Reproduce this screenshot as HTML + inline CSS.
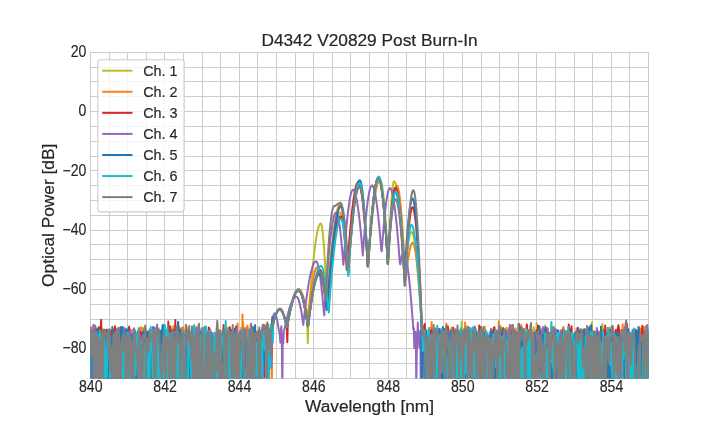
<!DOCTYPE html><html><head><meta charset="utf-8"><style>html,body{margin:0;padding:0;background:#fff;width:720px;height:432px;overflow:hidden}</style></head><body><svg width="720" height="432" viewBox="0 0 720 432" style="display:block;will-change:transform">
<rect width="720" height="432" fill="#fff"/>
<path d="M109.5 52V378M127.5 52V378M146.5 52V378M164.5 52V378M183.5 52V378M202.5 52V378M220.5 52V378M239.5 52V378M257.5 52V378M276.5 52V378M295.5 52V378M313.5 52V378M332.5 52V378M350.5 52V378M369.5 52V378M388.5 52V378M406.5 52V378M425.5 52V378M443.5 52V378M462.5 52V378M481.5 52V378M499.5 52V378M518.5 52V378M536.5 52V378M555.5 52V378M574.5 52V378M592.5 52V378M611.5 52V378M629.5 52V378M90 363.5H649M90 348.5H649M90 333.5H649M90 319.5H649M90 304.5H649M90 289.5H649M90 274.5H649M90 259.5H649M90 244.5H649M90 230.5H649M90 215.5H649M90 200.5H649M90 185.5H649M90 170.5H649M90 156.5H649M90 141.5H649M90 126.5H649M90 111.5H649M90 96.5H649M90 81.5H649M90 67.5H649" stroke="#cccccc" stroke-width="1" fill="none" shape-rendering="crispEdges"/>
<rect x="90.5" y="52.5" width="558" height="326" fill="none" stroke="#cccccc" stroke-width="1.2" shape-rendering="crispEdges"/>
<defs><clipPath id="c"><rect x="90.5" y="52.25" width="558.0" height="326.15"/></clipPath></defs><g clip-path="url(#c)"><path d="M88.5 336.7L89.2 390.0L89.9 351.2L90.6 357.8L91.3 365.9L92.0 343.5L92.7 332.0L93.4 383.4L94.1 390.0L94.8 332.3L95.5 390.0L96.2 337.6L96.9 390.0L97.6 390.0L98.3 390.0L99.0 344.4L99.7 342.2L100.4 329.0L101.1 390.0L101.8 333.5L102.5 390.0L103.2 329.2L103.9 390.0L104.6 356.5L105.3 390.0L106.0 331.4L106.7 335.9L107.4 387.3L108.1 329.4L108.8 377.0L109.5 356.6L110.2 330.4L110.9 339.4L111.6 354.1L112.3 353.1L113.0 390.0L113.7 390.0L114.4 342.7L115.1 387.0L115.8 332.9L116.5 390.0L117.2 345.7L117.9 331.8L118.6 390.0L119.3 330.8L120.0 339.1L120.7 390.0L121.4 335.1L122.1 366.4L122.8 333.4L123.5 366.3L124.2 365.6L124.9 390.0L125.6 332.0L126.3 332.3L127.0 338.8L127.7 342.9L128.4 340.4L129.1 380.7L129.8 390.0L130.5 390.0L131.2 339.5L131.9 389.8L132.6 390.0L133.3 390.0L134.0 329.4L134.7 336.4L135.4 390.0L136.1 347.3L136.8 353.7L137.5 343.4L138.2 333.5L138.9 349.9L139.6 352.3L140.3 350.1L141.0 357.2L141.7 365.2L142.4 329.8L143.1 327.9L143.8 390.0L144.5 390.0L145.2 359.2L145.9 339.6L146.6 332.1L147.3 336.6L148.0 390.0L148.7 333.8L149.4 368.2L150.1 338.9L150.8 337.1L151.5 390.0L152.2 390.0L152.9 338.6L153.6 352.5L154.3 390.0L155.0 390.0L155.7 335.4L156.4 390.0L157.1 332.7L157.8 335.0L158.5 339.2L159.2 390.0L159.9 340.5L160.6 330.8L161.3 335.8L162.0 337.9L162.7 338.1L163.4 358.0L164.1 335.6L164.8 339.3L165.5 390.0L166.2 356.2L166.9 390.0L167.6 390.0L168.3 355.3L169.0 341.8L169.7 390.0L170.4 335.1L171.1 339.5L171.8 390.0L172.5 390.0L173.2 326.1L173.9 335.9L174.6 368.9L175.3 388.9L176.0 330.2L176.7 366.6L177.4 347.5L178.1 343.5L178.8 390.0L179.5 390.0L180.2 345.1L180.9 390.0L181.6 390.0L182.3 336.0L183.0 390.0L183.7 390.0L184.4 336.1L185.1 332.1L185.8 390.0L186.5 326.9L187.2 334.0L187.9 338.3L188.6 390.0L189.3 335.5L190.0 332.0L190.7 336.7L191.4 390.0L192.1 334.8L192.8 332.7L193.5 333.0L194.2 346.6L194.9 336.1L195.6 333.1L196.3 344.6L197.0 355.4L197.7 326.0L198.4 390.0L199.1 341.9L199.8 332.5L200.5 348.0L201.2 337.2L201.9 357.9L202.6 327.9L203.3 359.1L204.0 334.1L204.7 326.6L205.4 340.4L206.1 328.7L206.8 390.0L207.5 379.4L208.2 360.1L208.9 390.0L209.6 339.6L210.3 329.2L211.0 390.0L211.7 340.8L212.4 390.0L213.1 345.2L213.8 338.5L214.5 333.9L215.2 390.0L215.9 390.0L216.6 382.6L217.3 354.2L218.0 329.8L218.7 351.1L219.4 330.4L220.1 334.5L220.8 330.6L221.5 370.7L222.2 390.0L222.9 337.9L223.6 353.1L224.3 390.0L225.0 340.8L225.7 338.4L226.4 335.0L227.1 331.9L227.8 379.7L228.5 330.1L229.2 326.8L229.9 345.8L230.6 358.3L231.3 347.5L232.0 342.7L232.7 346.0L233.4 334.4L234.1 333.8L234.8 339.0L235.5 347.5L236.2 329.3L236.9 331.6L237.6 390.0L238.3 337.2L239.0 390.0L239.7 334.6L240.4 390.0L241.1 327.8L241.8 390.0L242.5 335.0L243.2 322.5L243.9 390.0L244.6 340.6L245.3 390.0L246.0 328.1L246.7 327.0L247.4 390.0L248.1 390.0L248.8 384.0L249.5 390.0L250.2 349.2L250.9 335.0L251.6 334.8L252.3 329.2L253.0 377.7L253.7 334.9L254.4 334.7L255.1 365.2L255.8 390.0L256.5 390.0L257.2 390.0L257.9 339.7L258.6 383.6L259.3 331.2L260.0 390.0L260.7 390.0L261.4 363.3L262.1 390.0L262.8 358.5L263.5 368.3L264.2 390.0L264.9 333.8L265.6 328.4L266.3 342.2L266.8 341.8L267.3 390.0L267.8 325.9L268.3 333.9L268.8 329.5L269.3 349.8L269.8 340.7L270.3 343.2L270.8 334.1L271.3 331.3L271.8 329.0L272.3 326.8L272.8 324.8L273.3 322.8L273.8 321.0L274.3 319.3L274.8 317.7L275.3 316.2L275.8 314.9L276.3 313.7L276.8 312.6L277.3 311.7L277.8 310.9L278.3 310.3L278.8 309.9L279.3 309.6L279.8 309.5L280.3 309.6L280.8 309.8L281.3 310.3L281.8 311.0L282.3 311.8L282.8 312.8L283.3 314.1L283.8 315.4L284.3 317.0L284.8 318.7L285.3 320.5L285.8 322.5L286.3 324.6L286.8 326.9L287.3 325.9L287.8 322.8L288.3 320.0L288.8 317.3L289.3 314.8L289.8 312.3L290.3 310.0L290.8 307.8L291.3 305.7L291.8 303.7L292.3 301.8L292.8 300.0L293.3 298.4L293.8 296.9L294.3 295.5L294.8 294.3L295.3 293.2L295.8 292.3L296.3 291.5L296.8 290.9L297.3 290.5L297.8 290.2L298.3 290.0L298.8 290.0L299.3 290.3L299.8 290.8L300.3 291.5L300.8 292.5L301.3 293.6L301.8 295.0L302.3 296.6L302.8 298.4L303.3 300.4L303.8 302.6L304.3 304.9L304.8 307.5L305.3 310.2L305.8 313.0L306.3 316.0L306.8 319.2L307.3 322.6L307.8 343.2L308.3 322.7L308.8 315.1L309.3 308.1L309.8 301.4L310.3 295.0L310.8 288.8L311.3 282.9L311.8 277.2L312.3 271.7L312.8 266.5L313.3 261.5L313.8 256.8L314.3 252.4L314.8 248.3L315.3 244.4L315.8 240.9L316.3 237.7L316.8 234.8L317.3 232.2L317.8 229.9L318.3 228.0L318.8 226.4L319.3 225.2L319.8 224.3L320.3 223.8L320.8 223.6L321.3 224.2L321.8 226.0L322.3 229.0L322.8 233.1L323.3 238.3L323.8 244.6L324.3 251.8L324.8 260.0L325.3 269.0L325.8 278.8L326.3 289.5L326.8 302.0L327.3 295.2L327.8 289.3L328.3 283.7L328.8 278.4L329.3 273.3L329.8 268.4L330.3 263.6L330.8 259.0L331.3 254.6L331.8 250.4L332.3 246.4L332.8 242.5L333.3 238.9L333.8 235.5L334.3 232.3L334.8 229.3L335.3 226.5L335.8 224.0L336.3 221.7L336.8 219.7L337.3 217.9L337.8 216.3L338.3 215.1L338.8 214.0L339.3 213.3L339.8 212.8L340.3 212.5L340.8 212.6L341.3 213.3L341.8 214.5L342.3 216.3L342.8 218.7L343.3 221.6L343.8 225.0L344.3 229.0L344.8 233.4L345.3 238.3L345.8 243.6L346.3 249.3L346.8 255.4L347.3 261.9L347.8 269.0L348.3 273.7L348.8 266.0L349.3 259.1L349.8 252.6L350.3 246.3L350.8 240.4L351.3 234.7L351.8 229.2L352.3 224.1L352.8 219.2L353.3 214.6L353.8 210.3L354.3 206.3L354.8 202.6L355.3 199.3L355.8 196.3L356.3 193.7L356.8 191.4L357.3 189.6L357.8 188.0L358.3 186.9L358.8 186.2L359.3 185.8L359.8 185.9L360.3 186.6L360.8 188.0L361.3 190.0L361.8 192.6L362.3 195.9L362.8 199.7L363.3 204.1L363.8 209.0L364.3 214.5L364.8 220.4L365.3 226.9L365.8 233.7L366.3 241.0L366.8 248.8L367.3 257.1L367.8 266.3L368.3 262.4L368.8 255.8L369.3 249.6L369.8 243.7L370.3 238.0L370.8 232.6L371.3 227.4L371.8 222.4L372.3 217.7L372.8 213.2L373.3 208.9L373.8 204.9L374.3 201.2L374.8 197.7L375.3 194.5L375.8 191.7L376.3 189.1L376.8 186.8L377.3 184.9L377.8 183.2L378.3 181.9L378.8 181.0L379.3 180.3L379.8 180.0L380.3 180.1L380.8 180.9L381.3 182.3L381.8 184.4L382.3 187.1L382.8 190.4L383.3 194.4L383.8 199.0L384.3 204.1L384.8 209.8L385.3 216.0L385.8 222.7L386.3 229.8L386.8 237.4L387.3 245.5L387.8 254.1L388.3 263.5L388.8 258.7L389.3 245.6L389.8 233.7L390.3 222.9L390.8 213.1L391.3 204.5L391.8 197.1L392.3 191.0L392.8 186.4L393.3 183.2L393.8 181.5L394.3 181.2L394.8 181.7L395.3 182.6L395.8 184.0L396.3 185.9L396.8 188.2L397.3 191.0L397.8 194.3L398.3 198.0L398.8 202.1L399.3 206.6L399.8 211.5L400.3 216.8L400.8 222.4L401.3 228.4L401.8 234.8L402.3 241.4L402.8 248.4L403.3 255.7L403.8 263.5L404.3 271.9L404.8 272.1L405.3 266.7L405.8 261.7L406.3 257.1L406.8 252.7L407.3 248.8L407.8 245.2L408.3 242.0L408.8 239.2L409.3 236.8L409.8 235.0L410.3 233.5L410.8 232.6L411.3 232.1L411.8 232.2L412.3 232.7L412.8 233.8L413.3 235.4L413.8 237.4L414.3 240.0L414.8 243.0L415.3 246.5L415.8 250.4L416.3 254.8L416.8 259.6L417.3 264.9L417.8 270.5L418.3 276.4L418.8 282.8L419.3 289.5L419.8 296.5L420.3 303.9L420.8 311.6L421.3 319.8L421.8 327.1L422.3 390.0L422.8 340.6L423.3 328.4L423.8 334.5L424.3 358.1L424.8 364.6L425.3 333.1L426.0 338.6L426.7 331.0L427.4 360.2L428.1 333.3L428.8 390.0L429.5 335.7L430.2 390.0L430.9 331.8L431.6 342.6L432.3 390.0L433.0 382.9L433.7 343.2L434.4 364.2L435.1 358.9L435.8 333.1L436.5 370.9L437.2 390.0L437.9 333.3L438.6 349.0L439.3 390.0L440.0 339.2L440.7 339.9L441.4 339.1L442.1 357.4L442.8 390.0L443.5 390.0L444.2 344.0L444.9 390.0L445.6 390.0L446.3 370.6L447.0 390.0L447.7 390.0L448.4 390.0L449.1 341.1L449.8 390.0L450.5 329.4L451.2 362.8L451.9 347.9L452.6 332.4L453.3 338.4L454.0 336.5L454.7 330.8L455.4 352.9L456.1 333.0L456.8 373.3L457.5 358.6L458.2 331.5L458.9 390.0L459.6 383.5L460.3 342.8L461.0 335.0L461.7 321.4L462.4 390.0L463.1 390.0L463.8 348.5L464.5 333.8L465.2 332.1L465.9 335.5L466.6 352.8L467.3 337.0L468.0 383.0L468.7 376.3L469.4 330.5L470.1 390.0L470.8 330.4L471.5 372.7L472.2 341.2L472.9 390.0L473.6 390.0L474.3 339.7L475.0 340.8L475.7 331.9L476.4 390.0L477.1 390.0L477.8 385.4L478.5 338.5L479.2 377.0L479.9 369.3L480.6 390.0L481.3 390.0L482.0 390.0L482.7 390.0L483.4 334.6L484.1 330.2L484.8 326.5L485.5 342.5L486.2 348.5L486.9 390.0L487.6 332.7L488.3 390.0L489.0 337.7L489.7 356.1L490.4 374.5L491.1 337.3L491.8 353.9L492.5 336.2L493.2 354.6L493.9 390.0L494.6 327.2L495.3 358.3L496.0 390.0L496.7 336.0L497.4 390.0L498.1 333.9L498.8 383.0L499.5 333.5L500.2 390.0L500.9 326.6L501.6 330.3L502.3 353.2L503.0 346.9L503.7 328.7L504.4 329.3L505.1 335.3L505.8 367.7L506.5 332.8L507.2 330.4L507.9 390.0L508.6 359.1L509.3 343.3L510.0 329.7L510.7 335.6L511.4 337.7L512.1 355.0L512.8 390.0L513.5 390.0L514.2 384.1L514.9 390.0L515.6 348.0L516.3 335.9L517.0 390.0L517.7 339.8L518.4 341.3L519.1 350.4L519.8 390.0L520.5 390.0L521.2 324.7L521.9 390.0L522.6 390.0L523.3 390.0L524.0 329.0L524.7 333.9L525.4 390.0L526.1 349.6L526.8 390.0L527.5 366.0L528.2 369.5L528.9 343.0L529.6 344.9L530.3 333.6L531.0 390.0L531.7 330.3L532.4 380.4L533.1 390.0L533.8 327.2L534.5 338.1L535.2 383.5L535.9 390.0L536.6 323.1L537.3 335.9L538.0 338.2L538.7 357.9L539.4 364.1L540.1 340.2L540.8 390.0L541.5 390.0L542.2 338.9L542.9 390.0L543.6 364.8L544.3 381.4L545.0 325.4L545.7 390.0L546.4 337.1L547.1 390.0L547.8 364.1L548.5 342.2L549.2 338.6L549.9 390.0L550.6 390.0L551.3 348.9L552.0 339.0L552.7 361.6L553.4 332.0L554.1 327.0L554.8 353.2L555.5 333.0L556.2 339.7L556.9 354.7L557.6 334.4L558.3 351.9L559.0 336.5L559.7 390.0L560.4 363.8L561.1 390.0L561.8 337.8L562.5 390.0L563.2 390.0L563.9 338.9L564.6 330.9L565.3 337.3L566.0 390.0L566.7 341.4L567.4 363.7L568.1 363.1L568.8 332.8L569.5 343.2L570.2 390.0L570.9 338.9L571.6 345.8L572.3 333.4L573.0 340.8L573.7 339.5L574.4 349.8L575.1 339.1L575.8 346.8L576.5 334.1L577.2 340.3L577.9 334.5L578.6 390.0L579.3 338.0L580.0 329.9L580.7 361.6L581.4 377.5L582.1 337.4L582.8 332.3L583.5 390.0L584.2 389.9L584.9 390.0L585.6 333.1L586.3 390.0L587.0 390.0L587.7 390.0L588.4 336.3L589.1 390.0L589.8 331.5L590.5 359.8L591.2 328.3L591.9 322.3L592.6 338.7L593.3 344.2L594.0 330.9L594.7 365.6L595.4 390.0L596.1 390.0L596.8 350.4L597.5 334.9L598.2 338.3L598.9 336.2L599.6 358.5L600.3 335.2L601.0 390.0L601.7 390.0L602.4 324.1L603.1 334.3L603.8 390.0L604.5 340.4L605.2 390.0L605.9 336.4L606.6 390.0L607.3 335.5L608.0 390.0L608.7 360.1L609.4 343.4L610.1 329.0L610.8 361.0L611.5 390.0L612.2 339.0L612.9 390.0L613.6 390.0L614.3 390.0L615.0 390.0L615.7 352.8L616.4 335.4L617.1 340.3L617.8 390.0L618.5 390.0L619.2 335.7L619.9 346.8L620.6 332.4L621.3 375.5L622.0 340.3L622.7 347.1L623.4 353.3L624.1 370.2L624.8 354.4L625.5 390.0L626.2 339.1L626.9 390.0L627.6 347.8L628.3 356.6L629.0 340.0L629.7 338.9L630.4 390.0L631.1 390.0L631.8 364.8L632.5 390.0L633.2 346.2L633.9 390.0L634.6 390.0L635.3 333.8L636.0 334.9L636.7 375.6L637.4 335.3L638.1 327.5L638.8 361.1L639.5 338.7L640.2 390.0L640.9 335.6L641.6 365.9L642.3 390.0L643.0 339.0L643.7 390.0L644.4 352.3L645.1 390.0L645.8 356.0L646.5 390.0L647.2 346.7L647.9 328.1L648.6 338.1L649.3 337.2L650.0 337.4" stroke="#bcbd22" stroke-width="2" fill="none" stroke-linejoin="round"/>
<path d="M88.5 349.4L89.2 325.2L89.9 342.4L90.6 357.8L91.3 332.9L92.0 342.5L92.7 390.0L93.4 340.2L94.1 390.0L94.8 369.7L95.5 347.6L96.2 346.0L96.9 358.5L97.6 334.9L98.3 390.0L99.0 368.9L99.7 349.4L100.4 390.0L101.1 390.0L101.8 346.8L102.5 333.5L103.2 335.1L103.9 338.5L104.6 390.0L105.3 390.0L106.0 390.0L106.7 390.0L107.4 390.0L108.1 343.4L108.8 383.3L109.5 333.7L110.2 366.9L110.9 390.0L111.6 343.5L112.3 390.0L113.0 346.8L113.7 328.7L114.4 335.6L115.1 338.4L115.8 328.9L116.5 390.0L117.2 390.0L117.9 332.4L118.6 346.5L119.3 352.6L120.0 354.8L120.7 371.5L121.4 390.0L122.1 390.0L122.8 390.0L123.5 390.0L124.2 376.7L124.9 342.0L125.6 386.3L126.3 349.6L127.0 390.0L127.7 332.0L128.4 348.9L129.1 369.7L129.8 352.9L130.5 338.1L131.2 336.8L131.9 390.0L132.6 390.0L133.3 358.4L134.0 334.5L134.7 390.0L135.4 335.0L136.1 340.9L136.8 336.6L137.5 340.4L138.2 370.4L138.9 340.7L139.6 338.6L140.3 390.0L141.0 327.2L141.7 329.4L142.4 348.5L143.1 343.5L143.8 334.3L144.5 390.0L145.2 356.4L145.9 329.6L146.6 390.0L147.3 331.8L148.0 347.8L148.7 335.9L149.4 390.0L150.1 390.0L150.8 339.8L151.5 390.0L152.2 346.7L152.9 337.7L153.6 390.0L154.3 356.8L155.0 337.2L155.7 334.7L156.4 333.1L157.1 333.1L157.8 349.0L158.5 338.3L159.2 336.1L159.9 344.5L160.6 336.4L161.3 330.8L162.0 335.2L162.7 366.2L163.4 390.0L164.1 344.8L164.8 330.6L165.5 390.0L166.2 352.6L166.9 340.3L167.6 351.1L168.3 334.7L169.0 338.5L169.7 345.4L170.4 346.2L171.1 331.3L171.8 334.3L172.5 331.7L173.2 362.0L173.9 390.0L174.6 337.6L175.3 326.3L176.0 332.3L176.7 390.0L177.4 390.0L178.1 386.3L178.8 345.0L179.5 327.3L180.2 331.7L180.9 357.4L181.6 328.2L182.3 328.7L183.0 327.2L183.7 330.0L184.4 336.8L185.1 336.7L185.8 380.3L186.5 326.3L187.2 338.7L187.9 330.4L188.6 390.0L189.3 365.3L190.0 389.3L190.7 373.4L191.4 347.2L192.1 332.4L192.8 328.3L193.5 341.4L194.2 355.0L194.9 327.5L195.6 339.5L196.3 390.0L197.0 341.0L197.7 357.7L198.4 331.8L199.1 331.3L199.8 339.0L200.5 330.2L201.2 331.6L201.9 374.9L202.6 329.1L203.3 351.8L204.0 339.5L204.7 339.7L205.4 348.2L206.1 335.7L206.8 375.3L207.5 334.4L208.2 336.7L208.9 390.0L209.6 390.0L210.3 379.8L211.0 390.0L211.7 334.8L212.4 384.5L213.1 373.2L213.8 390.0L214.5 335.6L215.2 390.0L215.9 342.2L216.6 332.0L217.3 390.0L218.0 370.7L218.7 339.0L219.4 345.0L220.1 369.5L220.8 390.0L221.5 390.0L222.2 366.5L222.9 341.4L223.6 346.6L224.3 332.9L225.0 390.0L225.7 335.6L226.4 338.4L227.1 327.9L227.8 335.7L228.5 390.0L229.2 390.0L229.9 373.6L230.6 336.8L231.3 330.0L232.0 362.5L232.7 331.1L233.4 352.2L234.1 351.9L234.8 336.6L235.5 390.0L236.2 334.9L236.9 390.0L237.6 323.5L238.3 390.0L239.0 390.0L239.7 390.0L240.4 340.0L241.1 332.0L241.8 390.0L242.5 314.6L243.2 390.0L243.9 390.0L244.6 335.5L245.3 390.0L246.0 330.6L246.7 339.1L247.4 325.4L248.1 331.5L248.8 390.0L249.5 345.0L250.2 356.6L250.9 330.6L251.6 350.8L252.3 351.7L253.0 366.7L253.7 390.0L254.4 340.4L255.1 334.6L255.8 337.6L256.5 337.4L257.2 390.0L257.9 382.6L258.6 329.8L259.3 358.0L260.0 333.5L260.7 390.0L261.4 354.8L262.1 335.0L262.8 390.0L263.5 351.8L264.2 329.0L264.9 325.0L265.6 334.6L266.3 330.6L266.8 330.8L267.3 330.1L267.8 357.8L268.3 327.7L268.8 328.0L269.3 346.2L269.8 331.0L270.3 342.0L270.8 324.9L271.3 331.3L271.8 390.0L272.3 326.5L272.8 324.4L273.3 322.4L273.8 320.5L274.3 318.7L274.8 317.0L275.3 315.5L275.8 314.1L276.3 312.8L276.8 311.7L277.3 310.8L277.8 310.0L278.3 309.4L278.8 308.9L279.3 308.6L279.8 308.5L280.3 308.6L280.8 308.8L281.3 309.3L281.8 310.0L282.3 310.9L282.8 312.0L283.3 313.3L283.8 314.8L284.3 316.4L284.8 318.2L285.3 320.1L285.8 322.2L286.3 324.4L286.8 326.8L287.3 325.8L287.8 322.7L288.3 319.8L288.8 317.1L289.3 314.4L289.8 311.9L290.3 309.5L290.8 307.2L291.3 305.1L291.8 303.0L292.3 301.1L292.8 299.3L293.3 297.6L293.8 296.1L294.3 294.7L294.8 293.4L295.3 292.3L295.8 291.4L296.3 290.6L296.8 289.9L297.3 289.5L297.8 289.2L298.3 289.0L298.8 289.0L299.3 289.2L299.8 289.6L300.3 290.2L300.8 290.9L301.3 291.8L301.8 292.8L302.3 294.0L302.8 295.4L303.3 296.9L303.8 298.6L304.3 300.4L304.8 302.3L305.3 304.4L305.8 306.6L306.3 308.9L306.8 311.3L307.3 313.8L307.8 316.7L308.3 314.6L308.8 309.8L309.3 305.3L309.8 301.1L310.3 297.1L310.8 293.3L311.3 289.7L311.8 286.4L312.3 283.3L312.8 280.4L313.3 277.8L313.8 275.4L314.3 273.3L314.8 271.5L315.3 270.0L315.8 268.8L316.3 267.9L316.8 267.3L317.3 267.0L317.8 267.1L318.3 267.4L318.8 268.0L319.3 268.9L319.8 270.1L320.3 271.5L320.8 273.2L321.3 275.2L321.8 277.4L322.3 279.9L322.8 282.6L323.3 285.5L323.8 288.7L324.3 292.0L324.8 295.5L325.3 299.3L325.8 303.2L326.3 307.5L326.8 307.0L327.3 299.6L327.8 292.8L328.3 286.4L328.8 280.2L329.3 274.3L329.8 268.5L330.3 263.0L330.8 257.6L331.3 252.5L331.8 247.6L332.3 243.0L332.8 238.5L333.3 234.3L333.8 230.3L334.3 226.6L334.8 223.2L335.3 220.0L335.8 217.1L336.3 214.5L336.8 212.2L337.3 210.1L337.8 208.4L338.3 206.9L338.8 205.8L339.3 204.9L339.8 204.4L340.3 204.2L340.8 204.5L341.3 205.6L341.8 207.7L342.3 210.5L342.8 214.3L343.3 218.8L343.8 224.0L344.3 230.0L344.8 236.6L345.3 243.8L345.8 251.7L346.3 260.1L346.8 269.5L347.3 268.7L347.8 261.3L348.3 254.4L348.8 247.8L349.3 241.5L349.8 235.5L350.3 229.8L350.8 224.3L351.3 219.2L351.8 214.3L352.3 209.7L352.8 205.4L353.3 201.5L353.8 197.8L354.3 194.6L354.8 191.7L355.3 189.1L355.8 187.0L356.3 185.2L356.8 183.8L357.3 182.8L357.8 182.2L358.3 182.0L358.8 182.3L359.3 183.0L359.8 184.3L360.3 186.1L360.8 188.5L361.3 191.3L361.8 194.5L362.3 198.3L362.8 202.5L363.3 207.1L363.8 212.1L364.3 217.6L364.8 223.4L365.3 229.6L365.8 236.1L366.3 242.9L366.8 250.2L367.3 257.9L367.8 266.5L368.3 261.5L368.8 253.9L369.3 246.7L369.8 240.0L370.3 233.5L370.8 227.4L371.3 221.6L371.8 216.0L372.3 210.8L372.8 205.9L373.3 201.4L373.8 197.2L374.3 193.4L374.8 190.0L375.3 187.0L375.8 184.5L376.3 182.3L376.8 180.6L377.3 179.3L377.8 178.4L378.3 178.0L378.8 178.1L379.3 178.7L379.8 179.9L380.3 181.6L380.8 183.8L381.3 186.5L381.8 189.8L382.3 193.6L382.8 197.8L383.3 202.5L383.8 207.6L384.3 213.2L384.8 219.1L385.3 225.5L385.8 232.2L386.3 239.2L386.8 246.7L387.3 254.7L387.8 264.0L388.3 255.4L388.8 248.0L389.3 241.1L389.8 234.5L390.3 228.3L390.8 222.5L391.3 217.0L391.8 211.9L392.3 207.2L392.8 202.9L393.3 199.1L393.8 195.7L394.3 192.8L394.8 190.4L395.3 188.5L395.8 187.1L396.3 186.2L396.8 185.8L397.3 186.0L397.8 187.0L398.3 188.6L398.8 191.0L399.3 194.0L399.8 197.8L400.3 202.1L400.8 207.1L401.3 212.7L401.8 218.9L402.3 225.7L402.8 232.9L403.3 240.7L403.8 248.9L404.3 257.6L404.8 266.9L405.3 277.1L405.8 278.6L406.3 273.8L406.8 269.4L407.3 265.3L407.8 261.5L408.3 258.0L408.8 254.8L409.3 251.9L409.8 249.4L410.3 247.3L410.8 245.6L411.3 244.3L411.8 243.4L412.3 242.9L412.8 242.8L413.3 243.4L413.8 244.4L414.3 246.1L414.8 248.2L415.3 251.0L415.8 254.2L416.3 258.0L416.8 262.2L417.3 267.0L417.8 272.2L418.3 277.8L418.8 283.8L419.3 290.3L419.8 297.1L420.3 304.3L420.8 311.9L421.3 320.0L421.8 328.8L422.3 333.6L422.8 338.9L423.3 328.1L423.8 355.1L424.3 344.9L424.8 337.9L425.3 335.5L426.0 336.7L426.7 339.0L427.4 390.0L428.1 390.0L428.8 333.7L429.5 337.2L430.2 327.9L430.9 390.0L431.6 322.1L432.3 333.3L433.0 362.4L433.7 349.1L434.4 328.8L435.1 382.4L435.8 390.0L436.5 390.0L437.2 333.3L437.9 390.0L438.6 335.9L439.3 388.1L440.0 390.0L440.7 337.1L441.4 341.2L442.1 330.8L442.8 356.9L443.5 335.6L444.2 335.6L444.9 334.7L445.6 355.5L446.3 323.6L447.0 333.3L447.7 344.2L448.4 390.0L449.1 390.0L449.8 343.3L450.5 335.2L451.2 381.1L451.9 327.4L452.6 390.0L453.3 382.2L454.0 335.3L454.7 332.0L455.4 331.1L456.1 390.0L456.8 335.3L457.5 390.0L458.2 362.4L458.9 331.1L459.6 333.5L460.3 338.0L461.0 390.0L461.7 383.5L462.4 386.1L463.1 329.7L463.8 383.5L464.5 337.1L465.2 322.6L465.9 377.3L466.6 339.1L467.3 330.4L468.0 390.0L468.7 371.1L469.4 328.1L470.1 328.9L470.8 349.3L471.5 337.7L472.2 351.8L472.9 365.6L473.6 342.4L474.3 334.0L475.0 346.3L475.7 390.0L476.4 346.0L477.1 341.2L477.8 351.3L478.5 351.7L479.2 333.9L479.9 390.0L480.6 333.2L481.3 334.5L482.0 390.0L482.7 331.6L483.4 390.0L484.1 330.7L484.8 328.6L485.5 338.1L486.2 390.0L486.9 334.9L487.6 390.0L488.3 338.8L489.0 390.0L489.7 342.9L490.4 342.9L491.1 390.0L491.8 333.6L492.5 341.1L493.2 390.0L493.9 333.7L494.6 327.4L495.3 337.7L496.0 390.0L496.7 331.1L497.4 347.2L498.1 355.6L498.8 321.2L499.5 390.0L500.2 353.2L500.9 359.1L501.6 339.2L502.3 333.1L503.0 334.9L503.7 387.3L504.4 336.5L505.1 337.3L505.8 342.1L506.5 327.7L507.2 366.7L507.9 336.9L508.6 365.7L509.3 333.1L510.0 368.8L510.7 390.0L511.4 325.6L512.1 343.4L512.8 339.1L513.5 390.0L514.2 332.6L514.9 330.1L515.6 328.2L516.3 337.6L517.0 348.2L517.7 345.6L518.4 343.7L519.1 340.1L519.8 390.0L520.5 335.1L521.2 388.5L521.9 390.0L522.6 390.0L523.3 381.7L524.0 366.9L524.7 336.5L525.4 341.8L526.1 340.8L526.8 324.7L527.5 390.0L528.2 365.8L528.9 334.6L529.6 348.7L530.3 325.5L531.0 327.1L531.7 390.0L532.4 334.9L533.1 369.3L533.8 347.0L534.5 348.5L535.2 336.9L535.9 342.2L536.6 390.0L537.3 366.9L538.0 348.2L538.7 344.3L539.4 371.0L540.1 331.0L540.8 390.0L541.5 390.0L542.2 329.1L542.9 390.0L543.6 348.9L544.3 329.0L545.0 336.9L545.7 341.8L546.4 390.0L547.1 338.9L547.8 359.3L548.5 335.3L549.2 364.3L549.9 390.0L550.6 373.5L551.3 328.2L552.0 328.0L552.7 370.6L553.4 337.8L554.1 390.0L554.8 330.4L555.5 390.0L556.2 330.3L556.9 354.9L557.6 354.0L558.3 349.8L559.0 381.2L559.7 390.0L560.4 350.6L561.1 390.0L561.8 334.5L562.5 330.5L563.2 327.0L563.9 328.0L564.6 337.6L565.3 350.1L566.0 334.5L566.7 342.4L567.4 336.3L568.1 371.4L568.8 339.4L569.5 331.5L570.2 341.2L570.9 390.0L571.6 390.0L572.3 356.0L573.0 351.0L573.7 350.7L574.4 337.6L575.1 334.0L575.8 361.1L576.5 328.5L577.2 390.0L577.9 390.0L578.6 390.0L579.3 328.9L580.0 364.6L580.7 353.9L581.4 390.0L582.1 332.9L582.8 333.2L583.5 341.0L584.2 330.2L584.9 333.4L585.6 330.3L586.3 328.8L587.0 390.0L587.7 334.0L588.4 331.3L589.1 367.2L589.8 326.0L590.5 390.0L591.2 336.7L591.9 340.8L592.6 390.0L593.3 332.0L594.0 342.2L594.7 342.9L595.4 390.0L596.1 390.0L596.8 342.1L597.5 371.5L598.2 350.2L598.9 343.9L599.6 343.9L600.3 335.3L601.0 333.2L601.7 390.0L602.4 335.9L603.1 380.9L603.8 329.2L604.5 339.0L605.2 331.1L605.9 390.0L606.6 359.2L607.3 351.2L608.0 390.0L608.7 390.0L609.4 347.3L610.1 327.5L610.8 390.0L611.5 334.3L612.2 390.0L612.9 390.0L613.6 344.2L614.3 390.0L615.0 332.0L615.7 364.6L616.4 331.7L617.1 332.6L617.8 336.5L618.5 390.0L619.2 339.1L619.9 330.0L620.6 347.2L621.3 363.7L622.0 355.7L622.7 324.3L623.4 390.0L624.1 329.4L624.8 390.0L625.5 337.5L626.2 330.0L626.9 359.7L627.6 338.0L628.3 332.1L629.0 390.0L629.7 333.6L630.4 338.0L631.1 375.1L631.8 347.4L632.5 338.3L633.2 363.2L633.9 354.0L634.6 351.3L635.3 390.0L636.0 337.4L636.7 345.3L637.4 331.5L638.1 332.4L638.8 332.8L639.5 377.7L640.2 328.4L640.9 390.0L641.6 371.4L642.3 330.6L643.0 335.1L643.7 327.2L644.4 336.3L645.1 326.6L645.8 336.9L646.5 334.1L647.2 325.7L647.9 332.4L648.6 390.0L649.3 362.9L650.0 390.0" stroke="#ff7f0e" stroke-width="2" fill="none" stroke-linejoin="round"/>
<path d="M88.5 390.0L89.2 338.9L89.9 390.0L90.6 326.8L91.3 339.7L92.0 332.0L92.7 379.6L93.4 354.7L94.1 390.0L94.8 328.6L95.5 326.8L96.2 338.3L96.9 345.2L97.6 347.3L98.3 390.0L99.0 326.9L99.7 390.0L100.4 353.7L101.1 319.8L101.8 340.3L102.5 338.1L103.2 341.2L103.9 382.8L104.6 352.5L105.3 390.0L106.0 390.0L106.7 329.8L107.4 359.8L108.1 356.8L108.8 390.0L109.5 390.0L110.2 383.2L110.9 330.4L111.6 343.5L112.3 390.0L113.0 330.4L113.7 333.5L114.4 337.8L115.1 326.3L115.8 390.0L116.5 339.9L117.2 333.0L117.9 331.8L118.6 328.3L119.3 359.9L120.0 366.6L120.7 390.0L121.4 341.8L122.1 390.0L122.8 334.1L123.5 390.0L124.2 336.3L124.9 390.0L125.6 343.3L126.3 335.2L127.0 344.6L127.7 344.2L128.4 332.5L129.1 326.8L129.8 374.8L130.5 329.7L131.2 344.0L131.9 390.0L132.6 383.1L133.3 333.3L134.0 390.0L134.7 363.3L135.4 332.6L136.1 335.1L136.8 335.8L137.5 390.0L138.2 353.9L138.9 357.5L139.6 367.8L140.3 331.9L141.0 350.9L141.7 332.7L142.4 359.5L143.1 377.6L143.8 390.0L144.5 336.2L145.2 334.4L145.9 332.3L146.6 376.1L147.3 364.5L148.0 383.0L148.7 341.8L149.4 390.0L150.1 390.0L150.8 330.5L151.5 390.0L152.2 335.4L152.9 329.7L153.6 335.8L154.3 355.5L155.0 390.0L155.7 329.5L156.4 390.0L157.1 338.7L157.8 328.6L158.5 348.1L159.2 390.0L159.9 340.1L160.6 336.8L161.3 343.7L162.0 390.0L162.7 330.4L163.4 335.6L164.1 338.8L164.8 344.6L165.5 389.6L166.2 345.6L166.9 336.4L167.6 390.0L168.3 321.5L169.0 342.2L169.7 390.0L170.4 326.6L171.1 333.0L171.8 365.6L172.5 332.8L173.2 329.8L173.9 390.0L174.6 390.0L175.3 320.0L176.0 373.5L176.7 386.6L177.4 340.4L178.1 390.0L178.8 375.9L179.5 342.0L180.2 337.2L180.9 390.0L181.6 390.0L182.3 330.6L183.0 390.0L183.7 335.9L184.4 346.2L185.1 345.7L185.8 390.0L186.5 334.9L187.2 330.7L187.9 390.0L188.6 355.4L189.3 348.9L190.0 351.8L190.7 334.6L191.4 340.0L192.1 331.5L192.8 338.0L193.5 376.6L194.2 390.0L194.9 332.1L195.6 340.3L196.3 333.7L197.0 390.0L197.7 390.0L198.4 334.9L199.1 390.0L199.8 339.1L200.5 382.9L201.2 390.0L201.9 341.5L202.6 334.1L203.3 336.0L204.0 368.6L204.7 390.0L205.4 343.6L206.1 390.0L206.8 333.1L207.5 386.6L208.2 346.1L208.9 327.4L209.6 330.6L210.3 357.0L211.0 332.5L211.7 353.1L212.4 390.0L213.1 389.1L213.8 390.0L214.5 340.3L215.2 374.8L215.9 386.8L216.6 335.1L217.3 339.6L218.0 334.8L218.7 390.0L219.4 333.5L220.1 331.8L220.8 351.0L221.5 335.3L222.2 390.0L222.9 351.1L223.6 325.1L224.3 342.5L225.0 390.0L225.7 390.0L226.4 378.5L227.1 354.0L227.8 371.0L228.5 390.0L229.2 388.9L229.9 327.5L230.6 341.1L231.3 330.4L232.0 329.8L232.7 356.1L233.4 335.8L234.1 355.1L234.8 331.2L235.5 335.2L236.2 326.3L236.9 335.0L237.6 390.0L238.3 390.0L239.0 356.2L239.7 341.9L240.4 390.0L241.1 334.1L241.8 335.1L242.5 334.1L243.2 356.8L243.9 338.3L244.6 390.0L245.3 332.6L246.0 390.0L246.7 390.0L247.4 390.0L248.1 343.4L248.8 390.0L249.5 342.4L250.2 332.4L250.9 341.2L251.6 332.6L252.3 390.0L253.0 337.0L253.7 346.9L254.4 330.8L255.1 339.1L255.8 390.0L256.5 334.4L257.2 358.9L257.9 349.7L258.6 332.0L259.3 336.9L260.0 331.0L260.7 338.9L261.4 346.3L262.1 330.3L262.8 330.2L263.5 329.4L264.2 377.2L264.9 333.2L265.6 329.1L266.3 345.7L266.8 326.0L267.3 329.6L267.8 332.5L268.3 335.8L268.8 339.3L269.3 360.1L269.8 330.9L270.3 364.3L270.8 332.3L271.3 358.8L271.8 329.0L272.3 326.8L272.8 324.8L273.3 322.8L273.8 321.0L274.3 319.3L274.8 317.7L275.3 316.2L275.8 314.9L276.3 313.7L276.8 312.6L277.3 311.7L277.8 310.9L278.3 310.3L278.8 309.9L279.3 309.6L279.8 309.5L280.3 309.6L280.8 309.8L281.3 310.3L281.8 311.0L282.3 311.8L282.8 312.8L283.3 314.1L283.8 315.4L284.3 317.0L284.8 318.7L285.3 320.5L285.8 322.5L286.3 324.6L286.8 326.9L287.3 342.3L287.8 322.8L288.3 320.0L288.8 317.3L289.3 314.8L289.8 312.3L290.3 310.0L290.8 307.8L291.3 305.7L291.8 303.7L292.3 301.8L292.8 300.0L293.3 298.4L293.8 296.9L294.3 295.5L294.8 294.3L295.3 293.2L295.8 292.3L296.3 291.5L296.8 290.9L297.3 290.5L297.8 290.2L298.3 290.0L298.8 290.0L299.3 290.3L299.8 290.8L300.3 291.5L300.8 292.5L301.3 293.6L301.8 295.0L302.3 296.6L302.8 298.4L303.3 300.4L303.8 302.6L304.3 304.9L304.8 307.5L305.3 310.2L305.8 313.0L306.3 316.0L306.8 319.2L307.3 322.6L307.8 326.2L308.3 324.9L308.8 320.4L309.3 316.3L309.8 312.3L310.3 308.6L310.8 305.0L311.3 301.5L311.8 298.2L312.3 295.0L312.8 292.0L313.3 289.2L313.8 286.6L314.3 284.1L314.8 281.8L315.3 279.7L315.8 277.8L316.3 276.0L316.8 274.5L317.3 273.2L317.8 272.2L318.3 271.3L318.8 270.6L319.3 270.2L319.8 270.0L320.3 270.1L320.8 270.6L321.3 271.6L321.8 273.1L322.3 275.0L322.8 277.3L323.3 280.0L323.8 283.2L324.3 286.7L324.8 290.6L325.3 294.7L325.8 299.2L326.3 304.1L326.8 309.4L327.3 307.5L327.8 301.1L328.3 295.1L328.8 289.5L329.3 284.0L329.8 278.7L330.3 273.7L330.8 268.8L331.3 264.1L331.8 259.5L332.3 255.2L332.8 251.0L333.3 247.1L333.8 243.4L334.3 239.9L334.8 236.6L335.3 233.5L335.8 230.7L336.3 228.1L336.8 225.7L337.3 223.6L337.8 221.8L338.3 220.2L338.8 218.9L339.3 217.9L339.8 217.1L340.3 216.6L340.8 216.3L341.3 216.5L341.8 217.4L342.3 219.3L342.8 222.0L343.3 225.5L343.8 229.8L344.3 234.9L344.8 240.6L345.3 247.0L345.8 253.9L346.3 261.5L346.8 269.9L347.3 268.8L347.8 261.6L348.3 254.8L348.8 248.4L349.3 242.2L349.8 236.4L350.3 230.7L350.8 225.4L351.3 220.3L351.8 215.4L352.3 210.9L352.8 206.7L353.3 202.8L353.8 199.2L354.3 195.9L354.8 193.0L355.3 190.4L355.8 188.2L356.3 186.3L356.8 184.8L357.3 183.7L357.8 183.0L358.3 182.6L358.8 182.7L359.3 183.3L359.8 184.4L360.3 186.1L360.8 188.3L361.3 191.0L361.8 194.2L362.3 197.8L362.8 202.0L363.3 206.6L363.8 211.6L364.3 217.1L364.8 222.9L365.3 229.1L365.8 235.7L366.3 242.6L366.8 250.0L367.3 257.8L367.8 266.4L368.3 261.5L368.8 253.9L369.3 246.7L369.8 240.0L370.3 233.5L370.8 227.4L371.3 221.6L371.8 216.0L372.3 210.8L372.8 205.9L373.3 201.4L373.8 197.2L374.3 193.4L374.8 190.0L375.3 187.0L375.8 184.5L376.3 182.3L376.8 180.6L377.3 179.3L377.8 178.4L378.3 178.0L378.8 178.1L379.3 178.7L379.8 179.9L380.3 181.6L380.8 183.8L381.3 186.5L381.8 189.8L382.3 193.6L382.8 197.8L383.3 202.5L383.8 207.6L384.3 213.2L384.8 219.1L385.3 225.5L385.8 232.2L386.3 239.2L386.8 246.7L387.3 254.7L387.8 264.0L388.3 254.2L388.8 245.9L389.3 238.1L389.8 230.8L390.3 224.0L390.8 217.7L391.3 211.9L391.8 206.6L392.3 202.0L392.8 197.9L393.3 194.5L393.8 191.8L394.3 189.8L394.8 188.4L395.3 187.8L395.8 187.8L396.3 188.5L396.8 189.8L397.3 191.8L397.8 194.3L398.3 197.5L398.8 201.2L399.3 205.5L399.8 210.3L400.3 215.7L400.8 221.6L401.3 227.9L401.8 234.7L402.3 242.0L402.8 249.6L403.3 257.7L403.8 266.3L404.3 275.4L404.8 285.5L405.3 279.4L405.8 270.3L406.3 261.9L406.8 254.0L407.3 246.6L407.8 239.7L408.3 233.4L408.8 227.8L409.3 222.7L409.8 218.3L410.3 214.6L410.8 211.7L411.3 209.4L411.8 208.0L412.3 207.3L412.8 207.3L413.3 208.2L413.8 209.8L414.3 212.2L414.8 215.3L415.3 219.2L415.8 223.8L416.3 229.0L416.8 235.0L417.3 241.6L417.8 248.8L418.3 256.6L418.8 265.0L419.3 273.9L419.8 283.4L420.3 293.3L420.8 303.8L421.3 315.0L421.8 327.2L422.3 324.8L422.8 334.4L423.3 333.8L423.8 338.1L424.3 329.4L424.8 324.0L425.3 334.1L426.0 353.3L426.7 370.6L427.4 373.7L428.1 362.1L428.8 390.0L429.5 346.7L430.2 331.2L430.9 334.0L431.6 330.1L432.3 335.7L433.0 332.3L433.7 336.9L434.4 362.2L435.1 338.8L435.8 334.1L436.5 390.0L437.2 390.0L437.9 343.3L438.6 336.0L439.3 336.2L440.0 390.0L440.7 390.0L441.4 329.2L442.1 334.9L442.8 390.0L443.5 332.8L444.2 390.0L444.9 365.3L445.6 353.0L446.3 390.0L447.0 385.0L447.7 326.3L448.4 329.8L449.1 390.0L449.8 333.0L450.5 341.4L451.2 368.5L451.9 390.0L452.6 390.0L453.3 327.7L454.0 343.7L454.7 331.6L455.4 333.9L456.1 336.3L456.8 390.0L457.5 341.1L458.2 336.5L458.9 333.8L459.6 390.0L460.3 374.7L461.0 358.2L461.7 390.0L462.4 382.6L463.1 390.0L463.8 390.0L464.5 340.1L465.2 330.1L465.9 390.0L466.6 390.0L467.3 330.1L468.0 370.4L468.7 327.5L469.4 334.4L470.1 330.4L470.8 366.3L471.5 351.5L472.2 332.3L472.9 390.0L473.6 334.5L474.3 390.0L475.0 340.4L475.7 381.1L476.4 333.2L477.1 350.6L477.8 390.0L478.5 390.0L479.2 325.4L479.9 363.0L480.6 327.0L481.3 331.0L482.0 390.0L482.7 390.0L483.4 390.0L484.1 339.8L484.8 342.0L485.5 390.0L486.2 337.2L486.9 390.0L487.6 360.2L488.3 374.6L489.0 344.1L489.7 390.0L490.4 390.0L491.1 334.7L491.8 330.2L492.5 342.0L493.2 344.3L493.9 327.4L494.6 390.0L495.3 339.5L496.0 337.6L496.7 359.9L497.4 333.2L498.1 341.2L498.8 354.0L499.5 354.9L500.2 378.0L500.9 335.5L501.6 334.6L502.3 332.3L503.0 328.1L503.7 336.5L504.4 367.0L505.1 336.2L505.8 355.2L506.5 342.0L507.2 353.7L507.9 375.0L508.6 359.5L509.3 328.7L510.0 390.0L510.7 390.0L511.4 331.0L512.1 390.0L512.8 390.0L513.5 390.0L514.2 358.8L514.9 382.1L515.6 341.8L516.3 381.9L517.0 374.5L517.7 333.2L518.4 339.9L519.1 324.2L519.8 327.4L520.5 359.9L521.2 390.0L521.9 363.1L522.6 358.4L523.3 332.5L524.0 342.1L524.7 390.0L525.4 347.4L526.1 390.0L526.8 324.4L527.5 334.2L528.2 340.1L528.9 331.9L529.6 390.0L530.3 363.2L531.0 390.0L531.7 371.5L532.4 365.2L533.1 390.0L533.8 390.0L534.5 336.8L535.2 362.1L535.9 349.8L536.6 329.9L537.3 390.0L538.0 325.6L538.7 327.5L539.4 343.4L540.1 390.0L540.8 390.0L541.5 342.3L542.2 390.0L542.9 347.6L543.6 384.1L544.3 340.4L545.0 333.5L545.7 327.6L546.4 354.0L547.1 390.0L547.8 339.8L548.5 336.9L549.2 335.7L549.9 390.0L550.6 340.6L551.3 390.0L552.0 387.9L552.7 390.0L553.4 338.8L554.1 349.7L554.8 390.0L555.5 340.9L556.2 390.0L556.9 336.8L557.6 336.0L558.3 361.2L559.0 344.7L559.7 345.4L560.4 335.3L561.1 336.5L561.8 378.0L562.5 330.0L563.2 331.2L563.9 335.3L564.6 348.0L565.3 361.8L566.0 368.7L566.7 346.0L567.4 390.0L568.1 341.3L568.8 324.6L569.5 343.0L570.2 390.0L570.9 330.1L571.6 326.2L572.3 387.2L573.0 390.0L573.7 335.7L574.4 354.7L575.1 387.9L575.8 390.0L576.5 390.0L577.2 374.0L577.9 349.0L578.6 330.7L579.3 333.2L580.0 343.9L580.7 331.9L581.4 353.9L582.1 336.3L582.8 357.6L583.5 390.0L584.2 378.0L584.9 349.5L585.6 390.0L586.3 390.0L587.0 390.0L587.7 339.9L588.4 390.0L589.1 347.7L589.8 390.0L590.5 338.2L591.2 338.7L591.9 331.7L592.6 357.5L593.3 390.0L594.0 332.5L594.7 343.0L595.4 341.5L596.1 359.1L596.8 390.0L597.5 348.6L598.2 331.7L598.9 390.0L599.6 343.3L600.3 390.0L601.0 327.0L601.7 390.0L602.4 390.0L603.1 357.8L603.8 330.7L604.5 355.3L605.2 325.6L605.9 333.4L606.6 359.1L607.3 333.3L608.0 376.5L608.7 336.6L609.4 390.0L610.1 330.8L610.8 337.9L611.5 390.0L612.2 351.2L612.9 331.4L613.6 390.0L614.3 335.7L615.0 342.6L615.7 330.0L616.4 345.9L617.1 332.1L617.8 328.1L618.5 325.3L619.2 331.4L619.9 375.4L620.6 339.3L621.3 390.0L622.0 330.2L622.7 338.2L623.4 342.5L624.1 331.1L624.8 390.0L625.5 372.1L626.2 327.6L626.9 323.7L627.6 333.9L628.3 344.3L629.0 380.5L629.7 335.2L630.4 344.1L631.1 351.4L631.8 390.0L632.5 346.8L633.2 331.7L633.9 332.7L634.6 342.4L635.3 351.2L636.0 390.0L636.7 330.7L637.4 334.9L638.1 355.4L638.8 378.8L639.5 390.0L640.2 390.0L640.9 348.7L641.6 336.9L642.3 325.8L643.0 342.3L643.7 339.5L644.4 345.0L645.1 332.6L645.8 390.0L646.5 366.7L647.2 335.0L647.9 332.2L648.6 347.5L649.3 343.0L650.0 390.0" stroke="#d62728" stroke-width="2" fill="none" stroke-linejoin="round"/>
<path d="M88.5 349.6L89.2 390.0L89.9 330.5L90.6 390.0L91.3 337.4L92.0 386.2L92.7 339.7L93.4 324.8L94.1 390.0L94.8 325.4L95.5 390.0L96.2 336.3L96.9 357.7L97.6 335.3L98.3 390.0L99.0 334.6L99.7 355.0L100.4 342.5L101.1 336.9L101.8 336.6L102.5 390.0L103.2 333.7L103.9 336.5L104.6 329.7L105.3 353.9L106.0 380.8L106.7 390.0L107.4 386.9L108.1 335.0L108.8 336.3L109.5 390.0L110.2 374.5L110.9 348.7L111.6 336.8L112.3 390.0L113.0 390.0L113.7 349.2L114.4 374.4L115.1 371.0L115.8 336.7L116.5 340.8L117.2 332.9L117.9 390.0L118.6 327.8L119.3 390.0L120.0 368.5L120.7 390.0L121.4 390.0L122.1 342.0L122.8 369.8L123.5 390.0L124.2 340.0L124.9 328.2L125.6 335.3L126.3 335.1L127.0 329.9L127.7 335.1L128.4 334.3L129.1 357.8L129.8 330.3L130.5 337.4L131.2 366.6L131.9 390.0L132.6 356.9L133.3 329.5L134.0 355.4L134.7 331.9L135.4 336.7L136.1 356.5L136.8 361.1L137.5 347.4L138.2 390.0L138.9 390.0L139.6 390.0L140.3 335.3L141.0 340.5L141.7 390.0L142.4 388.9L143.1 390.0L143.8 346.6L144.5 390.0L145.2 338.6L145.9 361.3L146.6 390.0L147.3 347.3L148.0 344.1L148.7 338.5L149.4 329.6L150.1 360.4L150.8 343.2L151.5 371.8L152.2 340.3L152.9 327.0L153.6 332.2L154.3 390.0L155.0 342.2L155.7 390.0L156.4 331.7L157.1 324.5L157.8 390.0L158.5 390.0L159.2 390.0L159.9 374.7L160.6 356.5L161.3 339.0L162.0 390.0L162.7 390.0L163.4 367.3L164.1 327.2L164.8 338.0L165.5 369.2L166.2 390.0L166.9 340.2L167.6 341.8L168.3 375.3L169.0 359.6L169.7 390.0L170.4 333.2L171.1 333.1L171.8 390.0L172.5 377.1L173.2 362.9L173.9 390.0L174.6 372.4L175.3 331.6L176.0 390.0L176.7 390.0L177.4 338.1L178.1 333.1L178.8 346.1L179.5 390.0L180.2 339.0L180.9 335.7L181.6 368.6L182.3 340.7L183.0 333.7L183.7 390.0L184.4 390.0L185.1 343.1L185.8 341.5L186.5 390.0L187.2 333.4L187.9 342.3L188.6 390.0L189.3 340.7L190.0 336.9L190.7 339.6L191.4 347.1L192.1 390.0L192.8 354.7L193.5 353.2L194.2 390.0L194.9 340.8L195.6 332.6L196.3 327.5L197.0 334.9L197.7 339.5L198.4 343.4L199.1 384.4L199.8 390.0L200.5 332.9L201.2 330.9L201.9 328.2L202.6 334.1L203.3 390.0L204.0 337.3L204.7 327.2L205.4 334.5L206.1 335.7L206.8 390.0L207.5 334.6L208.2 390.0L208.9 338.7L209.6 345.7L210.3 330.6L211.0 342.6L211.7 333.7L212.4 333.1L213.1 352.2L213.8 390.0L214.5 390.0L215.2 386.7L215.9 335.0L216.6 345.0L217.3 343.2L218.0 390.0L218.7 339.2L219.4 353.8L220.1 334.4L220.8 390.0L221.5 334.0L222.2 341.1L222.9 390.0L223.6 350.9L224.3 378.0L225.0 335.6L225.7 358.5L226.4 339.2L227.1 390.0L227.8 390.0L228.5 340.2L229.2 390.0L229.9 364.7L230.6 355.7L231.3 332.0L232.0 360.4L232.7 354.0L233.4 390.0L234.1 340.4L234.8 390.0L235.5 334.6L236.2 390.0L236.9 328.7L237.6 338.6L238.3 386.0L239.0 390.0L239.7 342.8L240.4 382.3L241.1 334.3L241.8 350.1L242.5 348.6L243.2 354.1L243.9 328.0L244.6 335.5L245.3 390.0L246.0 336.8L246.7 340.9L247.4 390.0L248.1 390.0L248.8 343.2L249.5 341.4L250.2 334.4L250.9 323.7L251.6 331.8L252.3 339.4L253.0 390.0L253.7 328.1L254.4 343.8L255.1 379.3L255.8 333.1L256.5 338.6L257.2 332.5L257.9 347.4L258.6 390.0L259.3 344.9L260.0 390.0L260.7 331.9L261.4 390.0L262.1 390.0L262.8 390.0L263.5 358.0L264.2 339.0L264.9 335.0L265.6 345.5L266.3 332.2L266.8 341.7L267.3 324.1L267.8 388.4L268.3 390.0L268.8 390.0L269.3 336.2L269.8 339.9L270.3 349.7L270.8 333.2L271.3 366.5L271.8 325.4L272.3 321.6L272.8 318.4L273.3 316.0L273.8 314.4L274.3 313.6L274.8 313.6L275.3 314.1L275.8 315.1L276.3 316.6L276.8 318.5L277.3 320.8L277.8 323.6L278.3 326.7L278.8 330.2L279.3 331.9L279.8 335.2L280.3 342.7L280.8 330.3L281.3 326.3L281.8 339.1L282.3 390.0L282.8 334.0L283.3 343.5L283.8 331.1L284.3 329.3L284.8 327.8L285.3 325.3L285.8 323.0L286.3 320.7L286.8 318.5L287.3 316.4L287.8 314.4L288.3 312.4L288.8 310.6L289.3 308.9L289.8 307.3L290.3 305.8L290.8 304.4L291.3 303.1L291.8 301.9L292.3 300.9L292.8 299.9L293.3 299.1L293.8 298.4L294.3 297.8L294.8 297.3L295.3 297.0L295.8 296.8L296.3 296.7L296.8 296.8L297.3 297.2L297.8 298.0L298.3 299.1L298.8 300.4L299.3 302.1L299.8 304.1L300.3 306.3L300.8 308.8L301.3 311.5L301.8 314.4L302.3 317.6L302.8 321.0L303.3 325.0L303.8 319.8L304.3 315.3L304.8 311.1L305.3 307.1L305.8 303.2L306.3 299.5L306.8 295.9L307.3 292.5L307.8 289.2L308.3 286.1L308.8 283.1L309.3 280.3L309.8 277.7L310.3 275.2L310.8 273.0L311.3 270.9L311.8 269.0L312.3 267.3L312.8 265.8L313.3 264.6L313.8 263.5L314.3 262.7L314.8 262.0L315.3 261.6L315.8 261.4L316.3 261.5L316.8 262.0L317.3 263.0L317.8 264.4L318.3 266.2L318.8 268.5L319.3 271.2L319.8 274.4L320.3 277.8L320.8 281.7L321.3 285.9L321.8 290.4L322.3 295.3L322.8 300.5L323.3 305.9L323.8 311.9L324.3 315.3L324.8 306.8L325.3 299.1L325.8 291.9L326.3 285.0L326.8 278.3L327.3 272.0L327.8 265.9L328.3 260.0L328.8 254.5L329.3 249.3L329.8 244.3L330.3 239.7L330.8 235.4L331.3 231.5L331.8 227.9L332.3 224.6L332.8 221.7L333.3 219.2L333.8 217.1L334.3 215.4L334.8 214.1L335.3 213.2L335.8 212.6L336.3 212.5L336.8 212.9L337.3 213.9L337.8 215.4L338.3 217.5L338.8 220.2L339.3 223.3L339.8 227.0L340.3 231.1L340.8 235.6L341.3 240.6L341.8 245.9L342.3 251.7L342.8 257.9L343.3 264.8L343.8 259.9L344.3 252.8L344.8 246.3L345.3 240.1L345.8 234.1L346.3 228.6L346.8 223.3L347.3 218.3L347.8 213.7L348.3 209.5L348.8 205.6L349.3 202.1L349.8 199.0L350.3 196.4L350.8 194.1L351.3 192.4L351.8 191.0L352.3 190.2L352.8 189.7L353.3 189.8L353.8 190.2L354.3 191.0L354.8 192.1L355.3 193.7L355.8 195.6L356.3 197.8L356.8 200.4L357.3 203.4L357.8 206.6L358.3 210.2L358.8 214.0L359.3 218.2L359.8 222.6L360.3 227.2L360.8 232.2L361.3 237.3L361.8 242.8L362.3 248.6L362.8 255.4L363.3 247.7L363.8 241.1L364.3 234.9L364.8 229.0L365.3 223.5L365.8 218.2L366.3 213.3L366.8 208.8L367.3 204.6L367.8 200.7L368.3 197.3L368.8 194.3L369.3 191.7L369.8 189.5L370.3 187.8L370.8 186.5L371.3 185.7L371.8 185.4L372.3 185.5L372.8 186.1L373.3 187.0L373.8 188.3L374.3 190.1L374.8 192.2L375.3 194.7L375.8 197.6L376.3 200.8L376.8 204.4L377.3 208.3L377.8 212.5L378.3 217.0L378.8 221.8L379.3 226.9L379.8 232.2L380.3 237.8L380.8 243.8L381.3 250.2L381.8 251.3L382.3 244.0L382.8 237.4L383.3 231.1L383.8 225.3L384.3 219.8L384.8 214.6L385.3 209.9L385.8 205.6L386.3 201.7L386.8 198.2L387.3 195.3L387.8 192.8L388.3 190.8L388.8 189.4L389.3 188.5L389.8 188.1L390.3 188.2L390.8 188.8L391.3 189.8L391.8 191.2L392.3 193.0L392.8 195.2L393.3 197.8L393.8 200.8L394.3 204.2L394.8 208.0L395.3 212.1L395.8 216.5L396.3 221.2L396.8 226.3L397.3 231.6L397.8 237.3L398.3 243.2L398.8 249.4L399.3 256.0L399.8 263.2L400.3 264.3L400.8 261.0L401.3 258.1L401.8 255.7L402.3 253.9L402.8 252.6L403.3 252.1L403.8 252.1L404.3 252.6L404.8 253.5L405.3 254.9L405.8 256.7L406.3 259.0L406.8 261.6L407.3 264.7L407.8 268.2L408.3 272.1L408.8 276.3L409.3 280.9L409.8 285.8L410.3 291.0L410.8 296.6L411.3 302.4L411.8 308.6L412.3 315.1L412.8 321.9L413.3 329.4L413.8 328.0L414.3 348.0L414.8 337.7L415.3 331.7L415.8 334.0L416.3 388.1L416.8 351.1L417.3 338.6L417.8 322.5L418.3 341.3L418.8 336.2L419.3 347.3L419.8 333.4L420.3 330.8L420.8 390.0L421.3 356.7L421.8 339.5L422.3 336.9L422.8 342.6L423.3 342.9L423.8 339.9L424.3 390.0L424.8 350.7L425.3 390.0L426.0 339.6L426.7 390.0L427.4 390.0L428.1 344.2L428.8 390.0L429.5 390.0L430.2 349.2L430.9 390.0L431.6 334.4L432.3 336.7L433.0 340.1L433.7 362.0L434.4 334.2L435.1 333.7L435.8 390.0L436.5 351.1L437.2 330.6L437.9 341.6L438.6 342.2L439.3 390.0L440.0 390.0L440.7 336.4L441.4 335.6L442.1 346.3L442.8 342.7L443.5 390.0L444.2 390.0L444.9 385.4L445.6 390.0L446.3 358.2L447.0 390.0L447.7 357.6L448.4 331.2L449.1 390.0L449.8 331.1L450.5 334.6L451.2 340.1L451.9 340.3L452.6 333.7L453.3 339.8L454.0 336.1L454.7 356.4L455.4 346.6L456.1 346.6L456.8 358.9L457.5 337.5L458.2 383.4L458.9 337.7L459.6 341.0L460.3 364.5L461.0 390.0L461.7 345.9L462.4 343.2L463.1 347.9L463.8 390.0L464.5 390.0L465.2 368.2L465.9 390.0L466.6 360.1L467.3 363.0L468.0 390.0L468.7 332.7L469.4 340.0L470.1 337.1L470.8 330.8L471.5 346.3L472.2 376.7L472.9 386.5L473.6 336.5L474.3 390.0L475.0 352.5L475.7 351.8L476.4 390.0L477.1 363.9L477.8 359.2L478.5 333.8L479.2 371.6L479.9 334.4L480.6 344.9L481.3 334.1L482.0 378.4L482.7 390.0L483.4 333.4L484.1 379.7L484.8 375.1L485.5 390.0L486.2 349.3L486.9 333.8L487.6 335.5L488.3 353.9L489.0 335.8L489.7 390.0L490.4 390.0L491.1 328.8L491.8 343.0L492.5 351.6L493.2 390.0L493.9 335.1L494.6 373.2L495.3 334.5L496.0 330.2L496.7 390.0L497.4 331.1L498.1 390.0L498.8 351.4L499.5 335.1L500.2 344.5L500.9 390.0L501.6 387.0L502.3 336.9L503.0 340.5L503.7 341.4L504.4 335.5L505.1 390.0L505.8 350.3L506.5 337.2L507.2 331.5L507.9 345.0L508.6 385.2L509.3 390.0L510.0 324.7L510.7 390.0L511.4 358.5L512.1 375.7L512.8 325.5L513.5 390.0L514.2 336.4L514.9 390.0L515.6 334.9L516.3 390.0L517.0 333.1L517.7 338.4L518.4 390.0L519.1 390.0L519.8 333.0L520.5 368.6L521.2 337.9L521.9 335.3L522.6 345.8L523.3 353.4L524.0 331.5L524.7 390.0L525.4 342.5L526.1 338.7L526.8 346.0L527.5 335.3L528.2 341.7L528.9 330.0L529.6 359.1L530.3 388.9L531.0 340.8L531.7 390.0L532.4 338.2L533.1 390.0L533.8 340.4L534.5 341.0L535.2 390.0L535.9 367.6L536.6 332.8L537.3 370.5L538.0 390.0L538.7 359.8L539.4 329.3L540.1 347.9L540.8 333.7L541.5 382.9L542.2 336.2L542.9 327.0L543.6 340.6L544.3 334.6L545.0 336.3L545.7 353.6L546.4 390.0L547.1 375.0L547.8 328.2L548.5 341.9L549.2 390.0L549.9 351.7L550.6 335.6L551.3 381.7L552.0 385.4L552.7 390.0L553.4 333.8L554.1 329.9L554.8 332.7L555.5 329.1L556.2 369.7L556.9 390.0L557.6 330.4L558.3 390.0L559.0 365.8L559.7 380.6L560.4 330.5L561.1 339.6L561.8 390.0L562.5 390.0L563.2 390.0L563.9 375.3L564.6 336.7L565.3 390.0L566.0 352.5L566.7 390.0L567.4 390.0L568.1 337.4L568.8 355.1L569.5 331.7L570.2 344.6L570.9 342.9L571.6 351.2L572.3 390.0L573.0 345.7L573.7 345.0L574.4 390.0L575.1 385.7L575.8 343.7L576.5 340.6L577.2 370.3L577.9 342.6L578.6 390.0L579.3 390.0L580.0 390.0L580.7 342.8L581.4 342.9L582.1 390.0L582.8 337.0L583.5 332.9L584.2 328.9L584.9 336.1L585.6 343.8L586.3 334.5L587.0 370.2L587.7 330.8L588.4 334.5L589.1 359.6L589.8 390.0L590.5 342.8L591.2 390.0L591.9 337.0L592.6 331.9L593.3 342.9L594.0 390.0L594.7 363.3L595.4 334.3L596.1 345.7L596.8 328.0L597.5 331.3L598.2 390.0L598.9 349.1L599.6 345.9L600.3 390.0L601.0 334.0L601.7 331.1L602.4 334.0L603.1 341.4L603.8 342.3L604.5 359.1L605.2 390.0L605.9 390.0L606.6 344.2L607.3 342.6L608.0 390.0L608.7 365.1L609.4 336.2L610.1 390.0L610.8 350.5L611.5 329.5L612.2 386.0L612.9 337.8L613.6 334.7L614.3 390.0L615.0 340.1L615.7 390.0L616.4 390.0L617.1 389.5L617.8 338.0L618.5 385.2L619.2 390.0L619.9 337.2L620.6 338.1L621.3 390.0L622.0 390.0L622.7 390.0L623.4 342.3L624.1 335.8L624.8 326.9L625.5 388.8L626.2 362.7L626.9 332.4L627.6 332.7L628.3 341.3L629.0 376.7L629.7 390.0L630.4 332.9L631.1 390.0L631.8 366.6L632.5 357.7L633.2 336.7L633.9 331.4L634.6 378.4L635.3 340.9L636.0 339.5L636.7 390.0L637.4 390.0L638.1 335.3L638.8 330.6L639.5 390.0L640.2 344.1L640.9 338.5L641.6 373.6L642.3 335.0L643.0 352.5L643.7 390.0L644.4 343.3L645.1 330.8L645.8 338.2L646.5 338.4L647.2 325.0L647.9 330.8L648.6 390.0L649.3 331.1L650.0 390.0" stroke="#9467bd" stroke-width="2" fill="none" stroke-linejoin="round"/>
<path d="M88.5 323.3L89.2 339.0L89.9 343.5L90.6 390.0L91.3 340.2L92.0 354.0L92.7 339.0L93.4 360.1L94.1 390.0L94.8 357.1L95.5 353.9L96.2 332.4L96.9 330.2L97.6 328.6L98.3 337.9L99.0 334.3L99.7 390.0L100.4 351.8L101.1 340.7L101.8 351.6L102.5 335.9L103.2 377.6L103.9 330.6L104.6 345.1L105.3 329.8L106.0 369.5L106.7 352.5L107.4 360.2L108.1 390.0L108.8 387.1L109.5 335.1L110.2 341.8L110.9 390.0L111.6 390.0L112.3 326.9L113.0 390.0L113.7 341.6L114.4 360.6L115.1 356.1L115.8 349.2L116.5 390.0L117.2 390.0L117.9 390.0L118.6 344.9L119.3 352.5L120.0 390.0L120.7 326.9L121.4 336.8L122.1 328.0L122.8 327.0L123.5 390.0L124.2 332.8L124.9 355.6L125.6 368.4L126.3 332.3L127.0 329.2L127.7 330.9L128.4 390.0L129.1 390.0L129.8 390.0L130.5 336.5L131.2 357.9L131.9 373.3L132.6 335.3L133.3 390.0L134.0 390.0L134.7 330.2L135.4 390.0L136.1 343.6L136.8 390.0L137.5 390.0L138.2 330.7L138.9 351.2L139.6 381.8L140.3 390.0L141.0 390.0L141.7 343.9L142.4 389.0L143.1 331.8L143.8 390.0L144.5 328.7L145.2 328.6L145.9 390.0L146.6 360.0L147.3 332.4L148.0 331.8L148.7 355.8L149.4 337.6L150.1 342.4L150.8 331.7L151.5 390.0L152.2 390.0L152.9 387.1L153.6 390.0L154.3 327.5L155.0 364.3L155.7 348.6L156.4 371.9L157.1 337.3L157.8 390.0L158.5 340.8L159.2 332.2L159.9 330.4L160.6 371.5L161.3 390.0L162.0 331.7L162.7 325.1L163.4 390.0L164.1 325.2L164.8 390.0L165.5 378.1L166.2 390.0L166.9 390.0L167.6 353.3L168.3 332.8L169.0 343.5L169.7 334.8L170.4 369.9L171.1 390.0L171.8 390.0L172.5 342.1L173.2 331.1L173.9 347.4L174.6 334.9L175.3 346.8L176.0 336.4L176.7 390.0L177.4 337.0L178.1 321.7L178.8 334.1L179.5 387.1L180.2 330.0L180.9 340.8L181.6 377.7L182.3 390.0L183.0 390.0L183.7 390.0L184.4 335.5L185.1 351.0L185.8 337.9L186.5 358.5L187.2 378.7L187.9 367.4L188.6 374.3L189.3 336.2L190.0 390.0L190.7 343.9L191.4 335.2L192.1 340.3L192.8 332.9L193.5 337.3L194.2 390.0L194.9 373.4L195.6 333.5L196.3 390.0L197.0 390.0L197.7 343.5L198.4 350.8L199.1 332.6L199.8 334.5L200.5 356.3L201.2 333.1L201.9 345.0L202.6 390.0L203.3 390.0L204.0 373.8L204.7 373.6L205.4 329.8L206.1 332.1L206.8 381.2L207.5 390.0L208.2 339.7L208.9 388.5L209.6 332.3L210.3 386.1L211.0 355.9L211.7 339.1L212.4 337.5L213.1 390.0L213.8 344.4L214.5 345.9L215.2 386.4L215.9 334.9L216.6 340.1L217.3 390.0L218.0 339.9L218.7 390.0L219.4 345.6L220.1 390.0L220.8 340.4L221.5 390.0L222.2 372.9L222.9 340.5L223.6 329.3L224.3 345.4L225.0 349.6L225.7 329.4L226.4 331.7L227.1 376.8L227.8 334.6L228.5 390.0L229.2 340.8L229.9 380.9L230.6 390.0L231.3 390.0L232.0 350.9L232.7 390.0L233.4 333.2L234.1 352.1L234.8 328.5L235.5 343.5L236.2 334.7L236.9 337.6L237.6 349.9L238.3 390.0L239.0 358.0L239.7 334.0L240.4 355.7L241.1 345.8L241.8 332.1L242.5 390.0L243.2 355.8L243.9 341.7L244.6 340.8L245.3 333.5L246.0 336.0L246.7 390.0L247.4 371.9L248.1 343.4L248.8 354.7L249.5 388.2L250.2 374.6L250.9 336.6L251.6 341.7L252.3 390.0L253.0 327.2L253.7 360.1L254.4 356.0L255.1 325.1L255.8 390.0L256.5 343.0L257.2 340.8L257.9 390.0L258.6 334.0L259.3 335.2L260.0 390.0L260.7 390.0L261.4 354.0L262.1 335.8L262.8 332.1L263.5 340.6L264.2 361.4L264.9 331.7L265.6 328.7L266.3 333.1L266.8 390.0L267.3 390.0L267.8 341.6L268.3 332.1L268.8 331.8L269.3 349.1L269.8 330.2L270.3 333.1L270.8 331.6L271.3 330.3L271.8 329.0L272.3 317.1L272.8 324.8L273.3 322.8L273.8 321.0L274.3 319.3L274.8 317.7L275.3 316.2L275.8 314.9L276.3 313.7L276.8 312.6L277.3 311.7L277.8 310.9L278.3 310.3L278.8 309.9L279.3 309.6L279.8 309.5L280.3 309.6L280.8 309.8L281.3 310.3L281.8 311.0L282.3 311.8L282.8 312.8L283.3 314.1L283.8 315.4L284.3 317.0L284.8 318.7L285.3 320.5L285.8 322.5L286.3 324.6L286.8 326.9L287.3 325.9L287.8 322.8L288.3 320.0L288.8 317.3L289.3 314.8L289.8 312.3L290.3 310.0L290.8 307.8L291.3 305.7L291.8 303.7L292.3 301.8L292.8 300.0L293.3 298.4L293.8 296.9L294.3 295.5L294.8 294.3L295.3 293.2L295.8 292.3L296.3 291.5L296.8 290.9L297.3 290.5L297.8 290.2L298.3 290.0L298.8 290.0L299.3 290.3L299.8 290.8L300.3 291.5L300.8 292.5L301.3 293.6L301.8 295.0L302.3 296.6L302.8 298.4L303.3 300.4L303.8 302.6L304.3 304.9L304.8 307.5L305.3 310.2L305.8 313.0L306.3 316.0L306.8 319.2L307.3 322.6L307.8 326.2L308.3 325.0L308.8 320.7L309.3 316.7L309.8 312.9L310.3 309.2L310.8 305.8L311.3 302.4L311.8 299.3L312.3 296.3L312.8 293.4L313.3 290.7L313.8 288.2L314.3 285.9L314.8 283.8L315.3 281.8L315.8 280.1L316.3 278.6L316.8 277.3L317.3 276.2L317.8 275.3L318.3 274.7L318.8 274.2L319.3 274.0L319.8 274.1L320.3 274.5L320.8 275.3L321.3 276.4L321.8 277.9L322.3 279.8L322.8 281.9L323.3 284.4L323.8 287.2L324.3 290.3L324.8 293.7L325.3 297.3L325.8 301.1L326.3 305.3L326.8 309.8L327.3 307.0L327.8 299.9L328.3 293.4L328.8 287.1L329.3 281.0L329.8 275.2L330.3 269.6L330.8 264.2L331.3 259.0L331.8 254.0L332.3 249.2L332.8 244.6L333.3 240.3L333.8 236.1L334.3 232.2L334.8 228.6L335.3 225.2L335.8 222.1L336.3 219.2L336.8 216.6L337.3 214.3L337.8 212.3L338.3 210.5L338.8 209.1L339.3 207.9L339.8 207.1L340.3 206.5L340.8 206.2L341.3 206.3L341.8 207.1L342.3 208.7L342.8 211.0L343.3 213.9L343.8 217.6L344.3 221.9L344.8 226.8L345.3 232.3L345.8 238.4L346.3 245.0L346.8 252.1L347.3 259.7L347.8 267.9L348.3 273.6L348.8 265.6L349.3 258.4L349.8 251.5L350.3 245.0L350.8 238.8L351.3 232.8L351.8 227.1L352.3 221.7L352.8 216.5L353.3 211.7L353.8 207.1L354.3 202.9L354.8 199.0L355.3 195.5L355.8 192.3L356.3 189.4L356.8 187.0L357.3 184.9L357.8 183.2L358.3 181.9L358.8 180.9L359.3 180.4L359.8 180.3L360.3 180.8L360.8 182.1L361.3 184.0L361.8 186.7L362.3 190.0L362.8 194.0L363.3 198.7L363.8 204.0L364.3 209.8L364.8 216.2L365.3 223.2L365.8 230.6L366.3 238.6L366.8 247.0L367.3 256.0L367.8 266.1L368.3 261.5L368.8 253.9L369.3 246.7L369.8 240.0L370.3 233.5L370.8 227.4L371.3 221.6L371.8 216.0L372.3 210.8L372.8 205.9L373.3 201.4L373.8 197.2L374.3 193.4L374.8 190.0L375.3 187.0L375.8 184.5L376.3 182.3L376.8 180.6L377.3 179.3L377.8 178.4L378.3 178.0L378.8 178.1L379.3 178.7L379.8 179.9L380.3 181.6L380.8 183.8L381.3 186.5L381.8 189.8L382.3 193.6L382.8 197.8L383.3 202.5L383.8 207.6L384.3 213.2L384.8 219.1L385.3 225.5L385.8 232.2L386.3 239.2L386.8 246.7L387.3 254.7L387.8 264.0L388.3 254.8L388.8 246.9L389.3 239.5L389.8 232.7L390.3 226.2L390.8 220.3L391.3 214.8L391.8 209.9L392.3 205.5L392.8 201.7L393.3 198.5L393.8 195.9L394.3 193.9L394.8 192.7L395.3 192.1L395.8 192.1L396.3 192.8L396.8 194.0L397.3 195.8L397.8 198.2L398.3 201.1L398.8 204.6L399.3 208.6L399.8 213.1L400.3 218.1L400.8 223.5L401.3 229.4L401.8 235.7L402.3 242.5L402.8 249.6L403.3 257.1L403.8 265.1L404.3 273.8L404.8 271.8L405.3 263.0L405.8 255.0L406.3 247.4L406.8 240.3L407.3 233.7L407.8 227.5L408.3 221.9L408.8 216.8L409.3 212.3L409.8 208.4L410.3 205.1L410.8 202.5L411.3 200.5L411.8 199.2L412.3 198.6L412.8 198.6L413.3 199.6L413.8 201.3L414.3 203.8L414.8 207.2L415.3 211.3L415.8 216.2L416.3 221.9L416.8 228.2L417.3 235.3L417.8 243.0L418.3 251.3L418.8 260.3L419.3 269.8L419.8 279.9L420.3 290.6L420.8 301.8L421.3 313.7L421.8 390.0L422.3 337.4L422.8 330.6L423.3 341.4L423.8 337.3L424.3 340.9L424.8 390.0L425.3 383.3L426.0 330.3L426.7 359.6L427.4 377.3L428.1 353.2L428.8 350.1L429.5 332.0L430.2 339.5L430.9 346.3L431.6 362.3L432.3 390.0L433.0 390.0L433.7 339.4L434.4 341.1L435.1 390.0L435.8 328.4L436.5 333.6L437.2 331.3L437.9 390.0L438.6 329.5L439.3 328.8L440.0 332.4L440.7 338.6L441.4 351.6L442.1 390.0L442.8 326.9L443.5 390.0L444.2 328.8L444.9 350.4L445.6 390.0L446.3 390.0L447.0 333.3L447.7 333.4L448.4 390.0L449.1 344.3L449.8 377.1L450.5 337.9L451.2 331.1L451.9 370.2L452.6 343.3L453.3 371.0L454.0 358.9L454.7 355.8L455.4 346.6L456.1 390.0L456.8 331.7L457.5 367.1L458.2 364.0L458.9 390.0L459.6 332.9L460.3 337.2L461.0 362.7L461.7 331.1L462.4 352.4L463.1 361.6L463.8 390.0L464.5 368.2L465.2 330.3L465.9 345.2L466.6 390.0L467.3 347.0L468.0 327.9L468.7 369.7L469.4 366.5L470.1 340.5L470.8 335.2L471.5 390.0L472.2 369.0L472.9 390.0L473.6 334.8L474.3 331.5L475.0 383.4L475.7 329.3L476.4 370.7L477.1 353.6L477.8 346.1L478.5 390.0L479.2 353.9L479.9 379.6L480.6 390.0L481.3 390.0L482.0 379.4L482.7 354.7L483.4 332.6L484.1 331.9L484.8 336.9L485.5 390.0L486.2 332.8L486.9 390.0L487.6 390.0L488.3 390.0L489.0 347.9L489.7 390.0L490.4 331.4L491.1 332.6L491.8 349.1L492.5 390.0L493.2 381.1L493.9 338.4L494.6 331.3L495.3 390.0L496.0 390.0L496.7 379.1L497.4 390.0L498.1 332.2L498.8 333.8L499.5 385.3L500.2 328.7L500.9 349.0L501.6 390.0L502.3 376.0L503.0 331.6L503.7 390.0L504.4 335.5L505.1 330.0L505.8 338.0L506.5 390.0L507.2 337.0L507.9 390.0L508.6 337.0L509.3 390.0L510.0 355.6L510.7 337.0L511.4 363.3L512.1 344.5L512.8 347.7L513.5 331.4L514.2 390.0L514.9 349.1L515.6 332.8L516.3 341.2L517.0 335.4L517.7 348.9L518.4 335.4L519.1 369.5L519.8 327.8L520.5 338.3L521.2 338.7L521.9 390.0L522.6 390.0L523.3 334.5L524.0 342.8L524.7 338.8L525.4 333.3L526.1 390.0L526.8 345.6L527.5 390.0L528.2 390.0L528.9 390.0L529.6 338.9L530.3 338.1L531.0 336.1L531.7 339.7L532.4 337.5L533.1 351.8L533.8 353.0L534.5 332.5L535.2 390.0L535.9 363.4L536.6 390.0L537.3 341.2L538.0 344.2L538.7 350.3L539.4 326.2L540.1 333.1L540.8 349.1L541.5 366.3L542.2 371.2L542.9 335.3L543.6 390.0L544.3 347.0L545.0 390.0L545.7 327.5L546.4 390.0L547.1 347.8L547.8 352.2L548.5 333.4L549.2 344.1L549.9 333.0L550.6 335.7L551.3 330.3L552.0 390.0L552.7 348.5L553.4 339.4L554.1 390.0L554.8 334.0L555.5 390.0L556.2 352.0L556.9 390.0L557.6 330.2L558.3 332.2L559.0 342.7L559.7 390.0L560.4 390.0L561.1 357.6L561.8 390.0L562.5 386.1L563.2 339.7L563.9 390.0L564.6 390.0L565.3 390.0L566.0 390.0L566.7 390.0L567.4 342.4L568.1 333.6L568.8 380.2L569.5 340.9L570.2 387.6L570.9 390.0L571.6 390.0L572.3 334.4L573.0 358.6L573.7 353.1L574.4 333.5L575.1 357.9L575.8 331.9L576.5 377.4L577.2 357.7L577.9 327.8L578.6 390.0L579.3 341.3L580.0 390.0L580.7 390.0L581.4 329.3L582.1 330.8L582.8 335.0L583.5 369.9L584.2 329.8L584.9 390.0L585.6 348.7L586.3 336.7L587.0 390.0L587.7 390.0L588.4 390.0L589.1 327.5L589.8 368.8L590.5 390.0L591.2 325.3L591.9 341.0L592.6 381.2L593.3 390.0L594.0 390.0L594.7 337.9L595.4 390.0L596.1 338.3L596.8 333.5L597.5 390.0L598.2 380.0L598.9 390.0L599.6 390.0L600.3 368.3L601.0 326.6L601.7 390.0L602.4 369.7L603.1 390.0L603.8 390.0L604.5 358.1L605.2 343.7L605.9 374.7L606.6 334.9L607.3 339.1L608.0 375.9L608.7 390.0L609.4 351.5L610.1 330.6L610.8 390.0L611.5 390.0L612.2 338.7L612.9 333.8L613.6 384.7L614.3 390.0L615.0 374.0L615.7 335.1L616.4 332.0L617.1 390.0L617.8 334.1L618.5 352.7L619.2 334.8L619.9 342.6L620.6 357.1L621.3 339.7L622.0 347.1L622.7 361.5L623.4 343.6L624.1 334.1L624.8 390.0L625.5 390.0L626.2 353.5L626.9 332.1L627.6 390.0L628.3 329.2L629.0 346.6L629.7 384.9L630.4 335.0L631.1 389.4L631.8 345.1L632.5 330.3L633.2 338.2L633.9 346.4L634.6 344.5L635.3 329.4L636.0 390.0L636.7 333.6L637.4 341.8L638.1 357.6L638.8 327.0L639.5 390.0L640.2 355.6L640.9 337.4L641.6 390.0L642.3 341.8L643.0 390.0L643.7 337.7L644.4 373.6L645.1 370.2L645.8 373.2L646.5 334.2L647.2 333.4L647.9 390.0L648.6 390.0L649.3 390.0L650.0 333.0" stroke="#1f77b4" stroke-width="2" fill="none" stroke-linejoin="round"/>
<path d="M88.5 390.0L89.2 390.0L89.9 390.0L90.6 347.0L91.3 333.2L92.0 350.0L92.7 336.3L93.4 338.6L94.1 390.0L94.8 339.2L95.5 388.5L96.2 390.0L96.9 340.4L97.6 334.9L98.3 379.5L99.0 390.0L99.7 330.6L100.4 338.6L101.1 342.5L101.8 390.0L102.5 339.4L103.2 339.7L103.9 390.0L104.6 338.0L105.3 362.2L106.0 390.0L106.7 390.0L107.4 336.9L108.1 339.5L108.8 340.6L109.5 339.4L110.2 390.0L110.9 390.0L111.6 390.0L112.3 390.0L113.0 390.0L113.7 341.3L114.4 390.0L115.1 338.5L115.8 385.7L116.5 335.5L117.2 355.9L117.9 390.0L118.6 390.0L119.3 376.8L120.0 344.1L120.7 368.3L121.4 390.0L122.1 390.0L122.8 335.5L123.5 390.0L124.2 344.6L124.9 358.5L125.6 390.0L126.3 375.5L127.0 348.2L127.7 332.6L128.4 355.1L129.1 341.7L129.8 390.0L130.5 337.6L131.2 344.4L131.9 347.6L132.6 390.0L133.3 341.4L134.0 390.0L134.7 334.0L135.4 374.9L136.1 362.6L136.8 332.6L137.5 337.5L138.2 351.3L138.9 390.0L139.6 390.0L140.3 378.6L141.0 342.8L141.7 340.5L142.4 390.0L143.1 348.8L143.8 390.0L144.5 354.1L145.2 343.1L145.9 351.6L146.6 355.9L147.3 390.0L148.0 390.0L148.7 345.1L149.4 390.0L150.1 337.1L150.8 327.1L151.5 349.8L152.2 352.0L152.9 390.0L153.6 390.0L154.3 367.6L155.0 387.6L155.7 390.0L156.4 390.0L157.1 334.3L157.8 343.9L158.5 387.4L159.2 368.5L159.9 361.1L160.6 390.0L161.3 390.0L162.0 390.0L162.7 344.3L163.4 390.0L164.1 365.0L164.8 324.8L165.5 390.0L166.2 329.9L166.9 390.0L167.6 327.0L168.3 371.0L169.0 334.4L169.7 390.0L170.4 343.2L171.1 390.0L171.8 389.5L172.5 332.4L173.2 390.0L173.9 347.7L174.6 346.4L175.3 367.6L176.0 336.8L176.7 390.0L177.4 352.2L178.1 332.4L178.8 390.0L179.5 390.0L180.2 390.0L180.9 348.7L181.6 379.1L182.3 330.7L183.0 390.0L183.7 356.5L184.4 343.5L185.1 336.6L185.8 390.0L186.5 390.0L187.2 390.0L187.9 390.0L188.6 332.9L189.3 331.4L190.0 356.2L190.7 355.8L191.4 390.0L192.1 382.6L192.8 349.5L193.5 357.5L194.2 325.0L194.9 340.4L195.6 376.3L196.3 337.0L197.0 390.0L197.7 341.4L198.4 390.0L199.1 348.7L199.8 337.3L200.5 387.9L201.2 334.5L201.9 390.0L202.6 345.3L203.3 328.3L204.0 333.7L204.7 390.0L205.4 332.3L206.1 326.5L206.8 338.7L207.5 383.8L208.2 338.9L208.9 390.0L209.6 330.7L210.3 390.0L211.0 390.0L211.7 342.9L212.4 364.4L213.1 349.2L213.8 390.0L214.5 332.8L215.2 334.9L215.9 339.0L216.6 390.0L217.3 347.1L218.0 390.0L218.7 384.7L219.4 390.0L220.1 350.1L220.8 361.1L221.5 351.7L222.2 338.8L222.9 336.9L223.6 333.9L224.3 338.7L225.0 375.7L225.7 320.9L226.4 358.3L227.1 335.8L227.8 336.4L228.5 390.0L229.2 331.7L229.9 337.1L230.6 371.6L231.3 387.5L232.0 382.2L232.7 331.7L233.4 390.0L234.1 336.0L234.8 344.6L235.5 365.2L236.2 390.0L236.9 390.0L237.6 362.4L238.3 335.1L239.0 361.9L239.7 366.3L240.4 390.0L241.1 371.3L241.8 330.6L242.5 355.5L243.2 338.8L243.9 338.8L244.6 381.8L245.3 390.0L246.0 390.0L246.7 369.2L247.4 390.0L248.1 390.0L248.8 330.3L249.5 345.5L250.2 387.3L250.9 376.6L251.6 336.4L252.3 390.0L253.0 378.4L253.7 390.0L254.4 390.0L255.1 390.0L255.8 371.1L256.5 341.9L257.2 352.6L257.9 387.4L258.6 375.3L259.3 346.9L260.0 354.0L260.7 357.5L261.4 341.1L262.1 380.4L262.8 330.9L263.5 330.8L264.2 338.9L264.9 350.0L265.6 330.6L266.3 390.0L266.8 337.2L267.3 353.9L267.8 382.7L268.3 339.5L268.8 390.0L269.3 338.6L269.8 344.8L270.3 368.3L270.8 325.0L271.3 331.3L271.8 328.9L272.3 326.7L272.8 342.4L273.3 322.7L273.8 320.9L274.3 319.2L274.8 317.6L275.3 316.1L275.8 314.7L276.3 313.5L276.8 312.4L277.3 311.5L277.8 310.8L278.3 310.1L278.8 309.7L279.3 309.4L279.8 309.3L280.3 309.4L280.8 309.6L281.3 310.1L281.8 310.8L282.3 311.6L282.8 312.7L283.3 313.9L283.8 315.3L284.3 316.9L284.8 318.6L285.3 320.4L285.8 322.4L286.3 324.5L286.8 326.9L287.3 325.9L287.8 322.8L288.3 320.0L288.8 317.3L289.3 314.8L289.8 312.3L290.3 310.0L290.8 307.8L291.3 305.7L291.8 303.7L292.3 301.8L292.8 300.0L293.3 298.4L293.8 296.9L294.3 295.5L294.8 294.3L295.3 293.2L295.8 292.3L296.3 291.5L296.8 290.9L297.3 290.5L297.8 290.2L298.3 290.0L298.8 290.0L299.3 290.3L299.8 290.8L300.3 291.5L300.8 292.5L301.3 293.6L301.8 295.0L302.3 296.6L302.8 298.4L303.3 300.4L303.8 302.6L304.3 304.9L304.8 307.5L305.3 310.2L305.8 313.0L306.3 316.0L306.8 319.2L307.3 322.6L307.8 326.2L308.3 324.9L308.8 320.4L309.3 316.3L309.8 312.4L310.3 308.6L310.8 305.0L311.3 301.5L311.8 298.2L312.3 295.0L312.8 291.9L313.3 289.0L313.8 286.2L314.3 283.6L314.8 281.2L315.3 278.9L315.8 276.8L316.3 274.8L316.8 273.1L317.3 271.5L317.8 270.1L318.3 269.0L318.8 268.0L319.3 267.2L319.8 266.6L320.3 266.2L320.8 266.0L321.3 266.1L321.8 266.6L322.3 267.5L322.8 268.9L323.3 270.7L323.8 273.0L324.3 275.6L324.8 278.6L325.3 282.0L325.8 285.7L326.3 289.8L326.8 294.2L327.3 298.9L327.8 303.8L328.3 309.2L328.8 312.4L329.3 304.8L329.8 298.0L330.3 291.5L330.8 285.4L331.3 279.4L331.8 273.7L332.3 268.3L332.8 263.1L333.3 258.1L333.8 253.4L334.3 248.9L334.8 244.7L335.3 240.8L335.8 237.2L336.3 233.9L336.8 230.9L337.3 228.2L337.8 225.8L338.3 223.8L338.8 222.1L339.3 220.7L339.8 219.7L340.3 219.0L340.8 218.7L341.3 218.8L341.8 219.5L342.3 220.8L342.8 222.8L343.3 225.3L343.8 228.4L344.3 232.1L344.8 236.3L345.3 241.0L345.8 246.2L346.3 251.8L346.8 257.9L347.3 264.4L347.8 271.4L348.3 276.0L348.8 267.9L349.3 260.5L349.8 253.6L350.3 247.0L350.8 240.7L351.3 234.7L351.8 228.9L352.3 223.5L352.8 218.3L353.3 213.4L353.8 208.9L354.3 204.7L354.8 200.8L355.3 197.3L355.8 194.1L356.3 191.4L356.8 189.0L357.3 187.0L357.8 185.4L358.3 184.2L358.8 183.4L359.3 183.0L359.8 183.1L360.3 183.9L360.8 185.3L361.3 187.3L361.8 190.0L362.3 193.4L362.8 197.4L363.3 201.9L363.8 207.0L364.3 212.6L364.8 218.8L365.3 225.4L365.8 232.5L366.3 240.1L366.8 248.1L367.3 256.7L367.8 266.2L368.3 261.5L368.8 254.0L369.3 246.9L369.8 240.2L370.3 233.8L370.8 227.7L371.3 221.9L371.8 216.4L372.3 211.2L372.8 206.3L373.3 201.7L373.8 197.5L374.3 193.6L374.8 190.1L375.3 187.0L375.8 184.3L376.3 181.9L376.8 180.0L377.3 178.5L377.8 177.5L378.3 176.8L378.8 176.6L379.3 176.9L379.8 177.8L380.3 179.3L380.8 181.4L381.3 184.0L381.8 187.2L382.3 191.0L382.8 195.2L383.3 200.0L383.8 205.3L384.3 211.0L384.8 217.2L385.3 223.7L385.8 230.7L386.3 238.1L386.8 245.9L387.3 254.3L387.8 264.0L388.3 255.1L388.8 247.5L389.3 240.4L389.8 233.7L390.3 227.5L390.8 221.6L391.3 216.2L391.8 211.3L392.3 206.9L392.8 203.0L393.3 199.6L393.8 196.8L394.3 194.5L394.8 192.9L395.3 191.8L395.8 191.4L396.3 191.6L396.8 192.5L397.3 194.0L397.8 196.1L398.3 198.9L398.8 202.4L399.3 206.4L399.8 211.0L400.3 216.2L400.8 221.9L401.3 228.1L401.8 234.8L402.3 242.0L402.8 249.6L403.3 257.7L403.8 266.2L404.3 275.3L404.8 285.5L405.3 280.3L405.8 272.1L406.3 264.6L406.8 257.6L407.3 251.2L407.8 245.4L408.3 240.3L408.8 235.8L409.3 232.0L409.8 229.0L410.3 226.8L410.8 225.4L411.3 224.8L411.8 225.0L412.3 225.7L412.8 226.9L413.3 228.6L413.8 230.9L414.3 233.7L414.8 237.0L415.3 240.8L415.8 245.0L416.3 249.7L416.8 254.9L417.3 260.4L417.8 266.4L418.3 272.8L418.8 279.6L419.3 286.7L419.8 294.2L420.3 302.0L420.8 310.2L421.3 318.9L421.8 328.4L422.3 329.7L422.8 351.3L423.3 350.3L423.8 339.2L424.3 335.7L424.8 330.7L425.3 355.7L426.0 390.0L426.7 390.0L427.4 341.8L428.1 334.7L428.8 328.0L429.5 388.0L430.2 390.0L430.9 340.0L431.6 345.5L432.3 335.2L433.0 351.2L433.7 340.7L434.4 390.0L435.1 349.3L435.8 390.0L436.5 390.0L437.2 325.8L437.9 344.1L438.6 366.7L439.3 390.0L440.0 334.9L440.7 336.9L441.4 338.8L442.1 328.8L442.8 357.0L443.5 339.4L444.2 335.3L444.9 390.0L445.6 344.6L446.3 355.1L447.0 367.3L447.7 381.4L448.4 390.0L449.1 343.0L449.8 390.0L450.5 339.3L451.2 347.6L451.9 332.1L452.6 390.0L453.3 369.2L454.0 339.7L454.7 367.1L455.4 363.6L456.1 337.2L456.8 390.0L457.5 354.8L458.2 390.0L458.9 330.7L459.6 390.0L460.3 331.4L461.0 328.3L461.7 390.0L462.4 371.2L463.1 390.0L463.8 390.0L464.5 341.2L465.2 335.9L465.9 372.7L466.6 334.3L467.3 390.0L468.0 381.0L468.7 328.4L469.4 390.0L470.1 334.5L470.8 328.2L471.5 342.1L472.2 348.9L472.9 327.5L473.6 390.0L474.3 359.3L475.0 327.1L475.7 346.5L476.4 390.0L477.1 374.4L477.8 340.7L478.5 390.0L479.2 336.6L479.9 343.9L480.6 339.7L481.3 330.8L482.0 340.1L482.7 336.2L483.4 381.4L484.1 390.0L484.8 388.7L485.5 341.2L486.2 331.0L486.9 390.0L487.6 344.5L488.3 390.0L489.0 385.5L489.7 390.0L490.4 338.5L491.1 340.0L491.8 351.3L492.5 352.0L493.2 334.3L493.9 345.3L494.6 335.8L495.3 330.7L496.0 367.4L496.7 334.0L497.4 340.1L498.1 359.0L498.8 390.0L499.5 348.7L500.2 390.0L500.9 390.0L501.6 336.7L502.3 360.7L503.0 339.5L503.7 334.9L504.4 390.0L505.1 334.5L505.8 346.0L506.5 360.5L507.2 341.5L507.9 356.6L508.6 334.6L509.3 388.4L510.0 335.7L510.7 390.0L511.4 360.1L512.1 357.9L512.8 340.8L513.5 390.0L514.2 390.0L514.9 339.5L515.6 364.9L516.3 336.4L517.0 366.6L517.7 376.0L518.4 390.0L519.1 390.0L519.8 390.0L520.5 349.3L521.2 390.0L521.9 359.9L522.6 347.0L523.3 390.0L524.0 357.4L524.7 359.2L525.4 332.8L526.1 349.3L526.8 329.8L527.5 384.8L528.2 335.1L528.9 390.0L529.6 390.0L530.3 332.7L531.0 390.0L531.7 384.6L532.4 390.0L533.1 362.7L533.8 377.5L534.5 390.0L535.2 356.1L535.9 390.0L536.6 354.1L537.3 353.0L538.0 390.0L538.7 390.0L539.4 390.0L540.1 390.0L540.8 372.1L541.5 390.0L542.2 372.7L542.9 381.8L543.6 390.0L544.3 347.6L545.0 333.2L545.7 390.0L546.4 349.1L547.1 390.0L547.8 361.4L548.5 335.3L549.2 348.5L549.9 345.7L550.6 361.9L551.3 321.9L552.0 331.3L552.7 368.0L553.4 347.8L554.1 390.0L554.8 336.2L555.5 339.4L556.2 355.3L556.9 333.8L557.6 344.1L558.3 332.8L559.0 390.0L559.7 362.4L560.4 390.0L561.1 390.0L561.8 390.0L562.5 344.0L563.2 360.0L563.9 329.8L564.6 331.2L565.3 338.4L566.0 390.0L566.7 367.7L567.4 342.2L568.1 327.1L568.8 342.4L569.5 390.0L570.2 390.0L570.9 338.6L571.6 333.2L572.3 332.7L573.0 334.8L573.7 344.9L574.4 390.0L575.1 343.0L575.8 346.9L576.5 337.4L577.2 348.3L577.9 390.0L578.6 390.0L579.3 336.5L580.0 390.0L580.7 335.5L581.4 390.0L582.1 333.7L582.8 390.0L583.5 359.4L584.2 390.0L584.9 390.0L585.6 336.9L586.3 380.9L587.0 340.1L587.7 343.7L588.4 335.5L589.1 362.3L589.8 345.3L590.5 331.2L591.2 390.0L591.9 349.0L592.6 332.7L593.3 356.6L594.0 363.2L594.7 338.6L595.4 390.0L596.1 379.3L596.8 390.0L597.5 344.4L598.2 390.0L598.9 376.4L599.6 339.7L600.3 390.0L601.0 343.2L601.7 390.0L602.4 390.0L603.1 331.7L603.8 380.0L604.5 390.0L605.2 338.9L605.9 336.4L606.6 343.0L607.3 341.5L608.0 327.7L608.7 342.0L609.4 332.1L610.1 364.7L610.8 342.3L611.5 360.6L612.2 376.1L612.9 390.0L613.6 390.0L614.3 334.3L615.0 337.5L615.7 390.0L616.4 349.3L617.1 390.0L617.8 360.7L618.5 380.5L619.2 390.0L619.9 356.0L620.6 390.0L621.3 362.0L622.0 390.0L622.7 341.3L623.4 358.0L624.1 331.1L624.8 341.0L625.5 344.8L626.2 390.0L626.9 340.7L627.6 333.6L628.3 390.0L629.0 333.9L629.7 390.0L630.4 390.0L631.1 334.4L631.8 363.4L632.5 381.8L633.2 335.1L633.9 328.4L634.6 390.0L635.3 364.4L636.0 390.0L636.7 390.0L637.4 390.0L638.1 367.0L638.8 346.0L639.5 365.8L640.2 390.0L640.9 390.0L641.6 377.1L642.3 390.0L643.0 341.1L643.7 390.0L644.4 345.8L645.1 390.0L645.8 328.2L646.5 388.9L647.2 342.2L647.9 388.3L648.6 332.6L649.3 390.0L650.0 337.6" stroke="#17becf" stroke-width="2" fill="none" stroke-linejoin="round"/>
<path d="M88.5 390.0L89.2 385.2L89.9 334.3L90.6 336.6L91.3 335.9L92.0 354.9L92.7 329.6L93.4 329.6L94.1 390.0L94.8 334.4L95.5 390.0L96.2 331.7L96.9 386.6L97.6 354.3L98.3 336.8L99.0 390.0L99.7 354.6L100.4 340.4L101.1 381.3L101.8 333.0L102.5 390.0L103.2 355.8L103.9 335.0L104.6 329.9L105.3 334.2L106.0 335.5L106.7 333.2L107.4 338.5L108.1 330.2L108.8 354.1L109.5 329.2L110.2 370.7L110.9 346.1L111.6 366.5L112.3 390.0L113.0 348.5L113.7 334.3L114.4 390.0L115.1 331.7L115.8 390.0L116.5 333.2L117.2 329.0L117.9 390.0L118.6 330.6L119.3 338.5L120.0 388.9L120.7 390.0L121.4 353.0L122.1 337.4L122.8 350.7L123.5 333.1L124.2 345.9L124.9 333.5L125.6 390.0L126.3 369.8L127.0 335.5L127.7 390.0L128.4 390.0L129.1 335.6L129.8 342.1L130.5 336.8L131.2 376.2L131.9 340.2L132.6 383.1L133.3 377.0L134.0 328.3L134.7 333.6L135.4 348.0L136.1 345.9L136.8 359.2L137.5 350.5L138.2 390.0L138.9 328.0L139.6 390.0L140.3 390.0L141.0 390.0L141.7 341.5L142.4 390.0L143.1 334.9L143.8 336.6L144.5 337.3L145.2 325.4L145.9 390.0L146.6 338.3L147.3 341.5L148.0 343.7L148.7 351.6L149.4 333.1L150.1 341.5L150.8 335.3L151.5 334.3L152.2 336.7L152.9 330.0L153.6 340.4L154.3 390.0L155.0 328.3L155.7 390.0L156.4 335.8L157.1 330.6L157.8 331.8L158.5 328.6L159.2 333.4L159.9 350.5L160.6 374.0L161.3 357.8L162.0 379.4L162.7 346.4L163.4 334.9L164.1 331.2L164.8 371.4L165.5 377.4L166.2 336.9L166.9 337.7L167.6 342.2L168.3 339.6L169.0 390.0L169.7 332.4L170.4 338.8L171.1 346.4L171.8 390.0L172.5 390.0L173.2 331.2L173.9 390.0L174.6 338.3L175.3 390.0L176.0 342.5L176.7 326.7L177.4 334.0L178.1 342.5L178.8 334.1L179.5 345.3L180.2 390.0L180.9 355.0L181.6 333.6L182.3 334.7L183.0 342.1L183.7 390.0L184.4 390.0L185.1 390.0L185.8 324.8L186.5 346.7L187.2 330.0L187.9 337.8L188.6 339.9L189.3 325.9L190.0 345.1L190.7 333.2L191.4 358.7L192.1 326.4L192.8 390.0L193.5 334.8L194.2 390.0L194.9 390.0L195.6 337.8L196.3 334.3L197.0 390.0L197.7 348.4L198.4 330.7L199.1 323.7L199.8 390.0L200.5 350.7L201.2 384.2L201.9 335.4L202.6 331.3L203.3 390.0L204.0 382.7L204.7 366.8L205.4 390.0L206.1 334.0L206.8 340.3L207.5 379.8L208.2 331.2L208.9 336.2L209.6 390.0L210.3 390.0L211.0 364.9L211.7 337.3L212.4 353.5L213.1 358.3L213.8 390.0L214.5 390.0L215.2 353.0L215.9 371.4L216.6 329.5L217.3 320.8L218.0 333.4L218.7 388.6L219.4 390.0L220.1 330.6L220.8 351.8L221.5 390.0L222.2 369.5L222.9 363.4L223.6 390.0L224.3 330.2L225.0 337.8L225.7 333.8L226.4 370.8L227.1 390.0L227.8 333.3L228.5 329.5L229.2 330.0L229.9 336.6L230.6 334.5L231.3 366.5L232.0 377.4L232.7 325.1L233.4 390.0L234.1 369.2L234.8 357.5L235.5 331.8L236.2 390.0L236.9 332.1L237.6 334.8L238.3 390.0L239.0 390.0L239.7 333.2L240.4 330.4L241.1 332.5L241.8 341.8L242.5 347.2L243.2 358.1L243.9 390.0L244.6 331.8L245.3 338.3L246.0 329.6L246.7 344.2L247.4 390.0L248.1 360.8L248.8 390.0L249.5 329.6L250.2 390.0L250.9 334.8L251.6 390.0L252.3 326.7L253.0 390.0L253.7 333.7L254.4 390.0L255.1 333.6L255.8 337.0L256.5 331.8L257.2 335.5L257.9 333.3L258.6 390.0L259.3 327.6L260.0 380.9L260.7 331.7L261.4 333.9L262.1 328.7L262.8 324.8L263.5 324.7L264.2 326.6L264.9 336.1L265.6 333.9L266.3 349.9L266.8 390.0L267.3 322.5L267.8 324.0L268.3 333.2L268.8 332.1L269.3 351.0L269.8 338.0L270.3 356.3L270.8 338.1L271.3 331.3L271.8 329.0L272.3 326.8L272.8 324.8L273.3 322.8L273.8 321.0L274.3 319.3L274.8 317.7L275.3 316.2L275.8 314.9L276.3 313.7L276.8 312.6L277.3 311.7L277.8 310.9L278.3 310.3L278.8 309.9L279.3 309.6L279.8 309.5L280.3 309.6L280.8 309.8L281.3 310.3L281.8 311.0L282.3 311.8L282.8 312.8L283.3 314.1L283.8 315.4L284.3 317.0L284.8 318.7L285.3 320.5L285.8 322.5L286.3 324.6L286.8 326.9L287.3 325.9L287.8 323.0L288.3 320.2L288.8 317.6L289.3 315.1L289.8 312.8L290.3 310.5L290.8 308.3L291.3 306.2L291.8 304.3L292.3 302.5L292.8 300.7L293.3 299.2L293.8 297.7L294.3 296.4L294.8 295.2L295.3 294.1L295.8 293.2L296.3 292.5L296.8 291.9L297.3 291.4L297.8 291.2L298.3 291.0L298.8 291.0L299.3 291.3L299.8 291.8L300.3 292.5L300.8 293.4L301.3 294.5L301.8 295.9L302.3 297.4L302.8 299.2L303.3 301.1L303.8 303.2L304.3 305.5L304.8 308.0L305.3 310.6L305.8 313.4L306.3 316.3L306.8 319.4L307.3 322.7L307.8 326.3L308.3 324.8L308.8 320.3L309.3 316.2L309.8 312.2L310.3 308.4L310.8 304.8L311.3 301.3L311.8 298.0L312.3 294.8L312.8 291.9L313.3 289.1L313.8 286.5L314.3 284.0L314.8 281.8L315.3 279.8L315.8 278.0L316.3 276.4L316.8 275.0L317.3 273.9L317.8 273.0L318.3 272.3L318.8 271.8L319.3 271.6L319.8 271.7L320.3 272.1L320.8 273.0L321.3 274.2L321.8 275.9L322.3 277.9L322.8 280.3L323.3 283.0L323.8 286.0L324.3 289.3L324.8 292.8L325.3 296.7L325.8 300.9L326.3 289.9L326.8 277.0L327.3 266.6L327.8 257.6L328.3 249.6L328.8 242.4L329.3 235.9L329.8 230.1L330.3 224.9L330.8 220.4L331.3 216.5L331.8 213.2L332.3 210.5L332.8 208.4L333.3 207.0L333.8 206.2L334.3 206.0L334.8 205.9L335.3 205.8L335.8 205.5L336.3 205.2L336.8 204.8L337.3 204.4L337.8 204.0L338.3 203.6L338.8 203.3L339.3 203.0L339.8 202.9L340.3 202.8L340.8 203.0L341.3 203.6L341.8 204.8L342.3 206.5L342.8 208.7L343.3 211.5L343.8 214.7L344.3 218.5L344.8 222.8L345.3 227.7L345.8 233.1L346.3 239.2L346.8 246.1L347.3 254.2L347.8 264.6L348.3 267.2L348.8 260.4L349.3 254.1L349.8 248.2L350.3 242.5L350.8 237.0L351.3 231.8L351.8 226.8L352.3 222.0L352.8 217.5L353.3 213.3L353.8 209.4L354.3 205.7L354.8 202.4L355.3 199.4L355.8 196.6L356.3 194.2L356.8 192.2L357.3 190.4L357.8 189.1L358.3 188.0L358.8 187.3L359.3 187.0L359.8 187.1L360.3 187.8L360.8 189.2L361.3 191.1L361.8 193.7L362.3 196.9L362.8 200.7L363.3 205.0L363.8 209.9L364.3 215.3L364.8 221.1L365.3 227.5L365.8 234.2L366.3 241.4L366.8 249.1L367.3 257.2L367.8 266.3L368.3 261.6L368.8 254.0L369.3 247.0L369.8 240.3L370.3 233.9L370.8 227.8L371.3 222.0L371.8 216.5L372.3 211.4L372.8 206.6L373.3 202.1L373.8 197.9L374.3 194.2L374.8 190.8L375.3 187.9L375.8 185.3L376.3 183.2L376.8 181.5L377.3 180.2L377.8 179.3L378.3 178.9L378.8 179.0L379.3 179.6L379.8 180.7L380.3 182.4L380.8 184.6L381.3 187.4L381.8 190.6L382.3 194.3L382.8 198.5L383.3 203.1L383.8 208.2L384.3 213.7L384.8 219.6L385.3 225.9L385.8 232.5L386.3 239.5L386.8 246.9L387.3 254.8L387.8 264.0L388.3 255.7L388.8 248.6L389.3 242.0L389.8 235.8L390.3 230.1L390.8 224.7L391.3 219.8L391.8 215.4L392.3 211.4L392.8 208.0L393.3 205.1L393.8 202.8L394.3 201.0L394.8 199.9L395.3 199.3L395.8 199.4L396.3 200.0L396.8 201.2L397.3 202.9L397.8 205.1L398.3 207.9L398.8 211.2L399.3 215.0L399.8 219.3L400.3 224.1L400.8 229.2L401.3 234.9L401.8 240.9L402.3 247.3L402.8 254.1L403.3 261.2L403.8 268.8L404.3 276.8L404.8 285.8L405.3 278.5L405.8 268.4L406.3 259.0L406.8 250.2L407.3 241.8L407.8 234.0L408.3 226.8L408.8 220.1L409.3 214.0L409.8 208.5L410.3 203.7L410.8 199.6L411.3 196.2L411.8 193.6L412.3 191.6L412.8 190.5L413.3 190.1L413.8 190.6L414.3 192.2L414.8 194.8L415.3 198.4L415.8 203.0L416.3 208.6L416.8 215.2L417.3 222.7L417.8 231.0L418.3 240.1L418.8 250.1L419.3 260.8L419.8 272.2L420.3 284.3L420.8 297.2L421.3 310.8L421.8 325.8L422.3 331.2L422.8 334.4L423.3 328.8L423.8 333.7L424.3 339.1L424.8 333.4L425.3 332.7L426.0 390.0L426.7 349.5L427.4 349.4L428.1 337.8L428.8 390.0L429.5 390.0L430.2 346.6L430.9 335.2L431.6 390.0L432.3 341.0L433.0 343.0L433.7 325.1L434.4 390.0L435.1 348.8L435.8 329.1L436.5 337.3L437.2 335.2L437.9 331.8L438.6 342.6L439.3 390.0L440.0 376.1L440.7 347.6L441.4 330.0L442.1 372.6L442.8 346.8L443.5 332.3L444.2 344.9L444.9 331.1L445.6 390.0L446.3 325.7L447.0 346.3L447.7 335.3L448.4 347.1L449.1 390.0L449.8 390.0L450.5 364.7L451.2 338.1L451.9 336.8L452.6 329.8L453.3 356.7L454.0 390.0L454.7 390.0L455.4 329.2L456.1 341.9L456.8 345.0L457.5 325.6L458.2 335.4L458.9 377.5L459.6 332.6L460.3 338.4L461.0 337.3L461.7 360.7L462.4 335.1L463.1 390.0L463.8 349.2L464.5 328.6L465.2 337.7L465.9 336.0L466.6 344.8L467.3 326.4L468.0 390.0L468.7 390.0L469.4 329.7L470.1 355.5L470.8 342.6L471.5 390.0L472.2 390.0L472.9 330.7L473.6 352.6L474.3 326.4L475.0 339.8L475.7 339.0L476.4 390.0L477.1 354.8L477.8 334.1L478.5 330.7L479.2 390.0L479.9 390.0L480.6 334.0L481.3 328.7L482.0 373.5L482.7 380.3L483.4 327.1L484.1 390.0L484.8 340.3L485.5 390.0L486.2 337.9L486.9 337.5L487.6 335.7L488.3 349.1L489.0 390.0L489.7 338.7L490.4 348.7L491.1 338.5L491.8 390.0L492.5 344.9L493.2 390.0L493.9 343.7L494.6 337.3L495.3 332.5L496.0 359.8L496.7 334.3L497.4 390.0L498.1 369.3L498.8 331.2L499.5 325.6L500.2 354.9L500.9 340.3L501.6 339.1L502.3 385.8L503.0 339.3L503.7 349.7L504.4 329.2L505.1 337.7L505.8 338.2L506.5 390.0L507.2 354.0L507.9 390.0L508.6 381.5L509.3 327.6L510.0 390.0L510.7 338.3L511.4 377.5L512.1 342.7L512.8 325.0L513.5 390.0L514.2 330.0L514.9 340.7L515.6 390.0L516.3 331.9L517.0 339.0L517.7 390.0L518.4 324.1L519.1 390.0L519.8 331.7L520.5 340.0L521.2 330.6L521.9 327.3L522.6 334.3L523.3 341.6L524.0 328.9L524.7 390.0L525.4 375.2L526.1 337.8L526.8 342.6L527.5 332.8L528.2 335.7L528.9 338.3L529.6 331.1L530.3 335.5L531.0 323.0L531.7 342.4L532.4 390.0L533.1 341.6L533.8 334.7L534.5 389.7L535.2 357.3L535.9 390.0L536.6 356.6L537.3 390.0L538.0 331.0L538.7 341.9L539.4 369.4L540.1 335.6L540.8 364.5L541.5 338.0L542.2 390.0L542.9 346.5L543.6 346.9L544.3 390.0L545.0 352.0L545.7 344.8L546.4 338.5L547.1 333.2L547.8 333.9L548.5 355.3L549.2 390.0L549.9 333.2L550.6 358.7L551.3 343.4L552.0 330.8L552.7 340.5L553.4 327.2L554.1 347.3L554.8 390.0L555.5 336.6L556.2 337.7L556.9 343.4L557.6 390.0L558.3 343.9L559.0 390.0L559.7 341.8L560.4 390.0L561.1 341.3L561.8 333.7L562.5 390.0L563.2 341.8L563.9 375.9L564.6 369.4L565.3 331.5L566.0 331.0L566.7 335.8L567.4 342.4L568.1 383.3L568.8 332.9L569.5 333.2L570.2 333.9L570.9 337.2L571.6 390.0L572.3 390.0L573.0 345.1L573.7 390.0L574.4 390.0L575.1 390.0L575.8 333.6L576.5 339.3L577.2 333.0L577.9 332.4L578.6 342.2L579.3 334.5L580.0 339.8L580.7 337.5L581.4 330.1L582.1 334.3L582.8 368.3L583.5 349.7L584.2 348.2L584.9 350.2L585.6 390.0L586.3 390.0L587.0 326.0L587.7 335.2L588.4 333.5L589.1 390.0L589.8 335.8L590.5 390.0L591.2 336.0L591.9 356.1L592.6 337.2L593.3 390.0L594.0 390.0L594.7 335.3L595.4 332.1L596.1 377.1L596.8 336.0L597.5 390.0L598.2 390.0L598.9 340.4L599.6 332.3L600.3 358.2L601.0 381.9L601.7 390.0L602.4 368.7L603.1 366.5L603.8 336.8L604.5 390.0L605.2 338.0L605.9 390.0L606.6 336.8L607.3 342.4L608.0 337.9L608.7 362.6L609.4 363.1L610.1 332.2L610.8 333.6L611.5 337.2L612.2 325.8L612.9 326.3L613.6 390.0L614.3 336.3L615.0 351.9L615.7 339.4L616.4 372.5L617.1 336.5L617.8 372.2L618.5 384.4L619.2 337.5L619.9 354.7L620.6 390.0L621.3 358.2L622.0 329.9L622.7 332.5L623.4 335.7L624.1 339.2L624.8 351.7L625.5 324.3L626.2 320.5L626.9 390.0L627.6 333.8L628.3 390.0L629.0 331.8L629.7 339.2L630.4 340.6L631.1 364.4L631.8 342.4L632.5 334.8L633.2 335.8L633.9 332.6L634.6 346.0L635.3 384.3L636.0 378.2L636.7 390.0L637.4 390.0L638.1 390.0L638.8 344.4L639.5 390.0L640.2 333.6L640.9 337.2L641.6 341.0L642.3 338.1L643.0 336.5L643.7 390.0L644.4 335.6L645.1 331.3L645.8 331.0L646.5 378.4L647.2 334.0L647.9 338.4L648.6 331.7L649.3 390.0L650.0 329.2" stroke="#7f7f7f" stroke-width="2" fill="none" stroke-linejoin="round"/></g>
<text x="369.5" y="46" text-anchor="middle" font-size="17.3" fill="#262626" stroke="#262626" stroke-width="0.2" font-family="Liberation Sans, sans-serif">D4342 V20829 Post Burn-In</text>
<text x="369.5" y="412" text-anchor="middle" font-size="17.3" fill="#262626" stroke="#262626" stroke-width="0.2" font-family="Liberation Sans, sans-serif">Wavelength [nm]</text>
<text transform="translate(54,215.325) rotate(-90)" x="0" y="0" text-anchor="middle" font-size="17.3" fill="#262626" stroke="#262626" stroke-width="0.2" font-family="Liberation Sans, sans-serif">Optical Power [dB]</text>
<text transform="translate(90.70,392) scale(0.93,1.04)" text-anchor="middle" font-size="15.2" fill="#262626" stroke="#262626" stroke-width="0.12" font-family="Liberation Sans, sans-serif">840</text>
<text transform="translate(165.10,392) scale(0.93,1.04)" text-anchor="middle" font-size="15.2" fill="#262626" stroke="#262626" stroke-width="0.12" font-family="Liberation Sans, sans-serif">842</text>
<text transform="translate(239.50,392) scale(0.93,1.04)" text-anchor="middle" font-size="15.2" fill="#262626" stroke="#262626" stroke-width="0.12" font-family="Liberation Sans, sans-serif">844</text>
<text transform="translate(313.90,392) scale(0.93,1.04)" text-anchor="middle" font-size="15.2" fill="#262626" stroke="#262626" stroke-width="0.12" font-family="Liberation Sans, sans-serif">846</text>
<text transform="translate(388.30,392) scale(0.93,1.04)" text-anchor="middle" font-size="15.2" fill="#262626" stroke="#262626" stroke-width="0.12" font-family="Liberation Sans, sans-serif">848</text>
<text transform="translate(462.70,392) scale(0.93,1.04)" text-anchor="middle" font-size="15.2" fill="#262626" stroke="#262626" stroke-width="0.12" font-family="Liberation Sans, sans-serif">850</text>
<text transform="translate(537.10,392) scale(0.93,1.04)" text-anchor="middle" font-size="15.2" fill="#262626" stroke="#262626" stroke-width="0.12" font-family="Liberation Sans, sans-serif">852</text>
<text transform="translate(611.50,392) scale(0.93,1.04)" text-anchor="middle" font-size="15.2" fill="#262626" stroke="#262626" stroke-width="0.12" font-family="Liberation Sans, sans-serif">854</text>
<text transform="translate(86.4,353.40) scale(0.93,1.04)" text-anchor="end" font-size="15.2" fill="#262626" stroke="#262626" stroke-width="0.12" font-family="Liberation Sans, sans-serif">−80</text>
<text transform="translate(86.4,294.10) scale(0.93,1.04)" text-anchor="end" font-size="15.2" fill="#262626" stroke="#262626" stroke-width="0.12" font-family="Liberation Sans, sans-serif">−60</text>
<text transform="translate(86.4,234.80) scale(0.93,1.04)" text-anchor="end" font-size="15.2" fill="#262626" stroke="#262626" stroke-width="0.12" font-family="Liberation Sans, sans-serif">−40</text>
<text transform="translate(86.4,175.50) scale(0.93,1.04)" text-anchor="end" font-size="15.2" fill="#262626" stroke="#262626" stroke-width="0.12" font-family="Liberation Sans, sans-serif">−20</text>
<text transform="translate(86.4,116.20) scale(0.93,1.04)" text-anchor="end" font-size="15.2" fill="#262626" stroke="#262626" stroke-width="0.12" font-family="Liberation Sans, sans-serif">0</text>
<text transform="translate(86.4,56.90) scale(0.93,1.04)" text-anchor="end" font-size="15.2" fill="#262626" stroke="#262626" stroke-width="0.12" font-family="Liberation Sans, sans-serif">20</text>
<rect x="97.8" y="59.7" width="86.4" height="152.2" rx="3" fill="#fff" fill-opacity="0.8" stroke="#cccccc" stroke-width="1.07"/>
<path d="M102.2 70.70H132.5" stroke="#bcbd22" stroke-width="2" />
<text x="143.2" y="76.00" font-size="14.4" fill="#262626" stroke="#262626" stroke-width="0.15" font-family="Liberation Sans, sans-serif">Ch. 1</text>
<path d="M102.2 91.77H132.5" stroke="#ff7f0e" stroke-width="2" />
<text x="143.2" y="97.07" font-size="14.4" fill="#262626" stroke="#262626" stroke-width="0.15" font-family="Liberation Sans, sans-serif">Ch. 2</text>
<path d="M102.2 112.84H132.5" stroke="#d62728" stroke-width="2" />
<text x="143.2" y="118.14" font-size="14.4" fill="#262626" stroke="#262626" stroke-width="0.15" font-family="Liberation Sans, sans-serif">Ch. 3</text>
<path d="M102.2 133.91H132.5" stroke="#9467bd" stroke-width="2" />
<text x="143.2" y="139.21" font-size="14.4" fill="#262626" stroke="#262626" stroke-width="0.15" font-family="Liberation Sans, sans-serif">Ch. 4</text>
<path d="M102.2 154.98H132.5" stroke="#1f77b4" stroke-width="2" />
<text x="143.2" y="160.28" font-size="14.4" fill="#262626" stroke="#262626" stroke-width="0.15" font-family="Liberation Sans, sans-serif">Ch. 5</text>
<path d="M102.2 176.05H132.5" stroke="#17becf" stroke-width="2" />
<text x="143.2" y="181.35" font-size="14.4" fill="#262626" stroke="#262626" stroke-width="0.15" font-family="Liberation Sans, sans-serif">Ch. 6</text>
<path d="M102.2 197.12H132.5" stroke="#7f7f7f" stroke-width="2" />
<text x="143.2" y="202.42" font-size="14.4" fill="#262626" stroke="#262626" stroke-width="0.15" font-family="Liberation Sans, sans-serif">Ch. 7</text>
</svg></body></html>
